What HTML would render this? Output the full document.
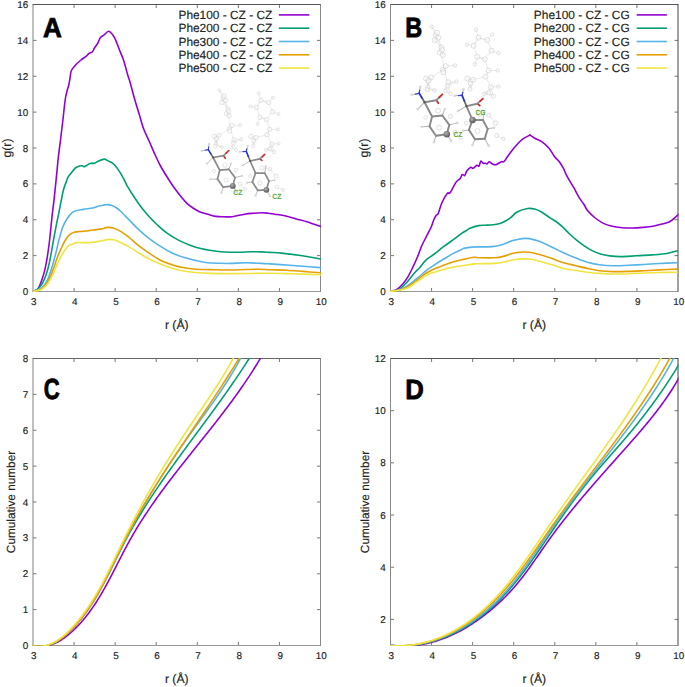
<!DOCTYPE html>
<html><head><meta charset="utf-8"><style>
html,body{margin:0;padding:0;background:#fff;overflow:hidden;}
svg{display:block;text-rendering:geometricPrecision;}
.tl{font-family:"Liberation Sans", sans-serif;font-size:9.9px;fill:#222;stroke:#222;stroke-width:0.15px;}
.al{font-family:"Liberation Sans", sans-serif;font-size:12.2px;fill:#222;stroke:#222;stroke-width:0.15px;}
.al2{font-family:"Liberation Sans", sans-serif;font-size:11.8px;fill:#222;stroke:#222;stroke-width:0.15px;}
.lg{font-family:"Liberation Sans", sans-serif;font-size:11.9px;fill:#222;stroke:#222;stroke-width:0.15px;}
.ml{font-family:"Liberation Sans", sans-serif;font-weight:bold;fill:#5aaa3a;}
.pl{font-family:"Liberation Sans", sans-serif;font-weight:bold;fill:#000;stroke:#000;stroke-width:0.8px;}
</style></head><body>
<svg width="685" height="687" viewBox="0 0 685 687">
<defs><radialGradient id="ballg" cx="0.4" cy="0.35" r="0.65"><stop offset="0" stop-color="#b0b0b0"/><stop offset="0.6" stop-color="#7a7a7a"/><stop offset="1" stop-color="#5a5a5a"/></radialGradient></defs><clipPath id="ca"><rect x="32.5" y="4.0" width="288.5" height="288.0"/></clipPath><line x1="74.07" y1="291.5" x2="74.07" y2="288.0" stroke="#777" stroke-width="1"/><line x1="74.07" y1="4.5" x2="74.07" y2="8.0" stroke="#777" stroke-width="1"/><line x1="115.14" y1="291.5" x2="115.14" y2="288.0" stroke="#777" stroke-width="1"/><line x1="115.14" y1="4.5" x2="115.14" y2="8.0" stroke="#777" stroke-width="1"/><line x1="156.21" y1="291.5" x2="156.21" y2="288.0" stroke="#777" stroke-width="1"/><line x1="156.21" y1="4.5" x2="156.21" y2="8.0" stroke="#777" stroke-width="1"/><line x1="197.29" y1="291.5" x2="197.29" y2="288.0" stroke="#777" stroke-width="1"/><line x1="197.29" y1="4.5" x2="197.29" y2="8.0" stroke="#777" stroke-width="1"/><line x1="238.36" y1="291.5" x2="238.36" y2="288.0" stroke="#777" stroke-width="1"/><line x1="238.36" y1="4.5" x2="238.36" y2="8.0" stroke="#777" stroke-width="1"/><line x1="279.43" y1="291.5" x2="279.43" y2="288.0" stroke="#777" stroke-width="1"/><line x1="279.43" y1="4.5" x2="279.43" y2="8.0" stroke="#777" stroke-width="1"/><line x1="33.0" y1="255.62" x2="36.5" y2="255.62" stroke="#777" stroke-width="1"/><line x1="320.5" y1="255.62" x2="317.0" y2="255.62" stroke="#777" stroke-width="1"/><line x1="33.0" y1="219.75" x2="36.5" y2="219.75" stroke="#777" stroke-width="1"/><line x1="320.5" y1="219.75" x2="317.0" y2="219.75" stroke="#777" stroke-width="1"/><line x1="33.0" y1="183.88" x2="36.5" y2="183.88" stroke="#777" stroke-width="1"/><line x1="320.5" y1="183.88" x2="317.0" y2="183.88" stroke="#777" stroke-width="1"/><line x1="33.0" y1="148.00" x2="36.5" y2="148.00" stroke="#777" stroke-width="1"/><line x1="320.5" y1="148.00" x2="317.0" y2="148.00" stroke="#777" stroke-width="1"/><line x1="33.0" y1="112.12" x2="36.5" y2="112.12" stroke="#777" stroke-width="1"/><line x1="320.5" y1="112.12" x2="317.0" y2="112.12" stroke="#777" stroke-width="1"/><line x1="33.0" y1="76.25" x2="36.5" y2="76.25" stroke="#777" stroke-width="1"/><line x1="320.5" y1="76.25" x2="317.0" y2="76.25" stroke="#777" stroke-width="1"/><line x1="33.0" y1="40.38" x2="36.5" y2="40.38" stroke="#777" stroke-width="1"/><line x1="320.5" y1="40.38" x2="317.0" y2="40.38" stroke="#777" stroke-width="1"/><line x1="32.5" y1="4.5" x2="321.0" y2="4.5" stroke="#555" stroke-width="1"/><line x1="32.5" y1="291.5" x2="321.0" y2="291.5" stroke="#999" stroke-width="1"/><line x1="33.0" y1="4.5" x2="33.0" y2="291.5" stroke="#808080" stroke-width="1"/><line x1="320.5" y1="4.5" x2="320.5" y2="291.5" stroke="#888" stroke-width="1"/><g clip-path="url(#ca)" fill="none" stroke-width="1.6" stroke-linejoin="round" stroke-linecap="round"><path d="M33.50,291.30 C34.15,291.05 36.32,290.88 37.40,289.80 C38.48,288.72 39.18,286.67 40.00,284.80 C40.82,282.93 41.53,280.92 42.30,278.60 C43.07,276.28 43.90,273.73 44.60,270.90 C45.30,268.07 45.92,264.82 46.50,261.60 C47.08,258.38 47.58,255.20 48.10,251.60 C48.62,248.00 48.92,246.12 49.60,240.00 C50.28,233.88 51.47,221.55 52.20,214.90 C52.93,208.25 53.27,206.77 54.00,200.10 C54.73,193.43 55.88,182.00 56.60,174.90 C57.32,167.80 57.65,163.32 58.30,157.50 C58.95,151.68 59.73,146.25 60.50,140.00 C61.27,133.75 62.10,126.83 62.90,120.00 C63.70,113.17 64.57,104.00 65.30,99.00 C66.03,94.00 66.72,92.33 67.30,90.00 C67.88,87.67 68.33,87.08 68.80,85.00 C69.27,82.92 69.67,79.92 70.10,77.50 C70.53,75.08 70.45,72.62 71.40,70.50 C72.35,68.38 74.20,66.55 75.80,64.80 C77.40,63.05 79.25,61.45 81.00,60.00 C82.75,58.55 84.98,57.18 86.30,56.10 C87.62,55.02 87.88,54.23 88.90,53.50 C89.92,52.77 91.45,52.65 92.40,51.70 C93.35,50.75 93.72,49.18 94.60,47.80 C95.48,46.42 96.75,45.08 97.70,43.40 C98.65,41.72 99.28,39.08 100.30,37.70 C101.32,36.32 102.42,36.17 103.80,35.10 C105.18,34.03 107.15,31.38 108.60,31.30 C110.05,31.22 111.27,33.02 112.50,34.60 C113.73,36.18 114.75,38.02 116.00,40.80 C117.25,43.58 118.75,48.08 120.00,51.30 C121.25,54.52 122.18,56.07 123.50,60.10 C124.82,64.13 126.82,71.85 127.90,75.50 C128.98,79.15 128.88,78.08 130.00,82.00 C131.12,85.92 133.10,93.73 134.60,99.00 C136.10,104.27 137.53,108.73 139.00,113.60 C140.47,118.47 141.70,123.58 143.40,128.20 C145.10,132.82 147.27,136.92 149.20,141.30 C151.13,145.68 153.12,150.38 155.00,154.50 C156.88,158.62 158.30,161.95 160.50,166.00 C162.70,170.05 165.95,175.22 168.20,178.80 C170.45,182.38 171.82,184.47 174.00,187.50 C176.18,190.53 179.10,194.32 181.30,197.00 C183.50,199.68 185.25,201.77 187.20,203.60 C189.15,205.43 190.87,206.62 193.00,208.00 C195.13,209.38 197.50,210.85 200.00,211.90 C202.50,212.95 205.33,213.55 208.00,214.30 C210.67,215.05 213.33,215.98 216.00,216.40 C218.67,216.82 221.33,216.75 224.00,216.80 C226.67,216.85 228.58,217.13 232.00,216.70 C235.42,216.27 241.00,214.77 244.50,214.20 C248.00,213.63 250.03,213.53 253.00,213.30 C255.97,213.07 259.80,212.82 262.30,212.80 C264.80,212.78 265.92,212.97 268.00,213.20 C270.08,213.43 272.18,213.82 274.80,214.20 C277.42,214.58 280.13,214.70 283.70,215.50 C287.27,216.30 292.35,217.97 296.20,219.00 C300.05,220.03 302.75,220.45 306.80,221.70 C310.85,222.95 318.22,225.70 320.50,226.50" stroke="#9400d3"/><path d="M33.50,291.20 C34.18,290.83 36.27,290.07 37.60,289.00 C38.93,287.93 40.33,286.53 41.50,284.80 C42.67,283.07 43.63,280.92 44.60,278.60 C45.57,276.28 46.47,273.73 47.30,270.90 C48.13,268.07 48.90,264.82 49.60,261.60 C50.30,258.38 50.85,255.20 51.50,251.60 C52.15,248.00 52.65,244.65 53.50,240.00 C54.35,235.35 55.72,228.17 56.60,223.70 C57.48,219.23 58.07,216.85 58.80,213.20 C59.53,209.55 60.22,205.70 61.00,201.80 C61.78,197.90 62.63,193.12 63.50,189.80 C64.37,186.48 65.40,184.08 66.20,181.90 C67.00,179.72 67.37,178.30 68.30,176.70 C69.23,175.10 70.63,173.75 71.80,172.30 C72.97,170.85 73.98,169.05 75.30,168.00 C76.62,166.95 78.53,166.37 79.70,166.00 C80.87,165.63 81.50,165.70 82.30,165.80 C83.10,165.90 83.62,166.75 84.50,166.60 C85.38,166.45 86.68,165.40 87.60,164.90 C88.52,164.40 89.12,163.90 90.00,163.60 C90.88,163.30 92.18,163.13 92.90,163.10 C93.62,163.07 93.33,163.77 94.30,163.40 C95.27,163.03 97.00,161.62 98.70,160.90 C100.40,160.18 103.03,159.15 104.50,159.10 C105.97,159.05 106.15,159.93 107.50,160.60 C108.85,161.27 110.90,161.72 112.60,163.10 C114.30,164.48 115.88,166.35 117.70,168.90 C119.52,171.45 121.90,175.53 123.50,178.40 C125.10,181.27 125.45,182.88 127.30,186.10 C129.15,189.32 132.17,194.05 134.60,197.70 C137.03,201.35 139.47,204.83 141.90,208.00 C144.33,211.17 146.52,213.78 149.20,216.70 C151.88,219.62 155.08,222.82 158.00,225.50 C160.92,228.18 163.30,230.37 166.70,232.80 C170.10,235.23 174.50,238.03 178.40,240.10 C182.30,242.17 186.20,243.75 190.10,245.20 C194.00,246.65 198.45,247.95 201.80,248.80 C205.15,249.65 207.10,249.82 210.20,250.30 C213.30,250.78 216.98,251.38 220.40,251.70 C223.82,252.02 227.28,252.12 230.70,252.20 C234.12,252.28 237.50,252.28 240.90,252.20 C244.30,252.12 247.70,251.75 251.10,251.70 C254.50,251.65 258.15,251.78 261.30,251.90 C264.45,252.02 266.65,252.20 270.00,252.40 C273.35,252.60 276.00,252.53 281.40,253.10 C286.80,253.67 295.88,254.82 302.40,255.80 C308.92,256.78 317.48,258.47 320.50,259.00" stroke="#009e73"/><path d="M33.50,291.20 C34.58,290.83 38.15,290.07 40.00,289.00 C41.85,287.93 43.25,286.53 44.60,284.80 C45.95,283.07 47.02,281.05 48.10,278.60 C49.18,276.15 50.15,273.07 51.10,270.10 C52.05,267.13 52.88,264.15 53.80,260.80 C54.72,257.45 55.75,253.47 56.60,250.00 C57.45,246.53 57.88,243.80 58.90,240.00 C59.92,236.20 61.48,230.50 62.70,227.20 C63.92,223.90 64.88,222.38 66.20,220.20 C67.52,218.02 69.13,215.63 70.60,214.10 C72.07,212.57 72.87,211.78 75.00,211.00 C77.13,210.22 80.42,209.90 83.40,209.40 C86.38,208.90 90.35,208.55 92.90,208.00 C95.45,207.45 97.02,206.57 98.70,206.10 C100.38,205.63 101.53,205.45 103.00,205.20 C104.47,204.95 106.00,204.53 107.50,204.60 C109.00,204.67 110.58,205.12 112.00,205.60 C113.42,206.08 114.62,206.60 116.00,207.50 C117.38,208.40 118.17,208.98 120.30,211.00 C122.43,213.02 125.68,216.45 128.80,219.60 C131.92,222.75 135.60,226.73 139.00,229.90 C142.40,233.07 145.55,235.82 149.20,238.60 C152.85,241.38 157.00,244.17 160.90,246.60 C164.80,249.03 168.72,251.37 172.60,253.20 C176.48,255.03 180.32,256.38 184.20,257.60 C188.08,258.82 192.00,259.65 195.90,260.50 C199.80,261.35 203.58,262.23 207.60,262.70 C211.62,263.17 216.15,263.18 220.00,263.30 C223.85,263.42 226.37,263.48 230.70,263.40 C235.03,263.32 240.90,262.80 246.00,262.80 C251.10,262.80 257.30,263.22 261.30,263.40 C265.30,263.58 265.78,263.63 270.00,263.90 C274.22,264.17 281.10,264.60 286.60,265.00 C292.10,265.40 297.35,265.87 303.00,266.30 C308.65,266.73 317.58,267.38 320.50,267.60" stroke="#56b4e9"/><path d="M33.50,291.30 C34.25,291.13 36.53,290.80 38.00,290.30 C39.47,289.80 40.82,289.48 42.30,288.30 C43.78,287.12 45.48,285.33 46.90,283.20 C48.32,281.07 49.65,278.07 50.80,275.50 C51.95,272.93 52.78,270.63 53.80,267.80 C54.82,264.97 55.73,261.58 56.90,258.50 C58.07,255.42 59.38,252.38 60.80,249.30 C62.22,246.22 63.92,242.45 65.40,240.00 C66.88,237.55 68.12,235.93 69.70,234.60 C71.28,233.27 73.18,232.52 74.90,232.00 C76.62,231.48 78.22,231.67 80.00,231.50 C81.78,231.33 83.22,231.27 85.60,231.00 C87.98,230.73 91.63,230.25 94.30,229.90 C96.97,229.55 99.40,229.32 101.60,228.90 C103.80,228.48 105.55,227.55 107.50,227.40 C109.45,227.25 111.12,227.33 113.30,228.00 C115.48,228.67 118.02,229.87 120.60,231.40 C123.18,232.93 125.73,234.78 128.80,237.20 C131.87,239.62 135.60,243.23 139.00,245.90 C142.40,248.57 145.55,250.77 149.20,253.20 C152.85,255.63 157.00,258.55 160.90,260.50 C164.80,262.45 168.72,263.68 172.60,264.90 C176.48,266.12 180.32,267.08 184.20,267.80 C188.08,268.52 191.60,268.90 195.90,269.20 C200.20,269.50 204.20,269.47 210.00,269.60 C215.80,269.73 222.83,270.07 230.70,270.00 C238.57,269.93 250.65,269.25 257.20,269.20 C263.75,269.15 265.10,269.53 270.00,269.70 C274.90,269.87 281.10,269.92 286.60,270.20 C292.10,270.48 297.35,270.97 303.00,271.40 C308.65,271.83 317.58,272.57 320.50,272.80" stroke="#e69f00"/><path d="M33.50,291.30 C34.08,291.22 35.67,291.12 37.00,290.80 C38.33,290.48 39.98,290.27 41.50,289.40 C43.02,288.53 44.68,287.13 46.10,285.60 C47.52,284.07 48.72,282.40 50.00,280.20 C51.28,278.00 52.52,275.23 53.80,272.40 C55.08,269.57 56.40,266.03 57.70,263.20 C59.00,260.37 60.32,257.72 61.60,255.40 C62.88,253.08 64.12,250.97 65.40,249.30 C66.68,247.63 68.03,246.30 69.30,245.40 C70.57,244.50 71.75,244.37 73.00,243.90 C74.25,243.43 75.30,242.82 76.80,242.60 C78.30,242.38 80.05,242.60 82.00,242.60 C83.95,242.60 85.97,242.77 88.50,242.60 C91.03,242.43 94.62,241.98 97.20,241.60 C99.78,241.22 102.05,240.67 104.00,240.30 C105.95,239.93 107.10,239.43 108.90,239.40 C110.70,239.37 112.95,239.62 114.80,240.10 C116.65,240.58 117.67,241.22 120.00,242.30 C122.33,243.38 125.63,244.78 128.80,246.60 C131.97,248.42 135.60,251.13 139.00,253.20 C142.40,255.27 145.55,257.17 149.20,259.00 C152.85,260.83 157.00,262.62 160.90,264.20 C164.80,265.78 168.58,267.32 172.60,268.50 C176.62,269.68 180.88,270.58 185.00,271.30 C189.12,272.02 193.13,272.45 197.30,272.80 C201.47,273.15 204.43,273.27 210.00,273.40 C215.57,273.53 220.70,273.62 230.70,273.60 C240.70,273.58 260.68,273.30 270.00,273.30 C279.32,273.30 281.10,273.47 286.60,273.60 C292.10,273.73 297.35,273.92 303.00,274.10 C308.65,274.28 317.58,274.60 320.50,274.70" stroke="#f0e442"/></g><text x="33.80" y="305.00" text-anchor="middle" class="tl">3</text><text x="74.87" y="305.00" text-anchor="middle" class="tl">4</text><text x="115.94" y="305.00" text-anchor="middle" class="tl">5</text><text x="157.01" y="305.00" text-anchor="middle" class="tl">6</text><text x="198.09" y="305.00" text-anchor="middle" class="tl">7</text><text x="239.16" y="305.00" text-anchor="middle" class="tl">8</text><text x="280.23" y="305.00" text-anchor="middle" class="tl">9</text><text x="321.30" y="305.00" text-anchor="middle" class="tl">10</text><text x="28.20" y="295.10" text-anchor="end" class="tl">0</text><text x="28.20" y="259.23" text-anchor="end" class="tl">2</text><text x="28.20" y="223.35" text-anchor="end" class="tl">4</text><text x="28.20" y="187.47" text-anchor="end" class="tl">6</text><text x="28.20" y="151.60" text-anchor="end" class="tl">8</text><text x="28.20" y="115.72" text-anchor="end" class="tl">10</text><text x="28.20" y="79.85" text-anchor="end" class="tl">12</text><text x="28.20" y="43.98" text-anchor="end" class="tl">14</text><text x="28.20" y="8.10" text-anchor="end" class="tl">16</text><text x="176.75" y="329.00" text-anchor="middle" class="al">r (Å)</text><text transform="translate(10.70,148.00) rotate(-90)" text-anchor="middle" class="al">g(r)</text><clipPath id="cb"><rect x="390.0" y="4.0" width="288.5" height="288.0"/></clipPath><line x1="431.57" y1="291.5" x2="431.57" y2="288.0" stroke="#777" stroke-width="1"/><line x1="431.57" y1="4.5" x2="431.57" y2="8.0" stroke="#777" stroke-width="1"/><line x1="472.64" y1="291.5" x2="472.64" y2="288.0" stroke="#777" stroke-width="1"/><line x1="472.64" y1="4.5" x2="472.64" y2="8.0" stroke="#777" stroke-width="1"/><line x1="513.71" y1="291.5" x2="513.71" y2="288.0" stroke="#777" stroke-width="1"/><line x1="513.71" y1="4.5" x2="513.71" y2="8.0" stroke="#777" stroke-width="1"/><line x1="554.79" y1="291.5" x2="554.79" y2="288.0" stroke="#777" stroke-width="1"/><line x1="554.79" y1="4.5" x2="554.79" y2="8.0" stroke="#777" stroke-width="1"/><line x1="595.86" y1="291.5" x2="595.86" y2="288.0" stroke="#777" stroke-width="1"/><line x1="595.86" y1="4.5" x2="595.86" y2="8.0" stroke="#777" stroke-width="1"/><line x1="636.93" y1="291.5" x2="636.93" y2="288.0" stroke="#777" stroke-width="1"/><line x1="636.93" y1="4.5" x2="636.93" y2="8.0" stroke="#777" stroke-width="1"/><line x1="390.5" y1="255.62" x2="394.0" y2="255.62" stroke="#777" stroke-width="1"/><line x1="678.0" y1="255.62" x2="674.5" y2="255.62" stroke="#777" stroke-width="1"/><line x1="390.5" y1="219.75" x2="394.0" y2="219.75" stroke="#777" stroke-width="1"/><line x1="678.0" y1="219.75" x2="674.5" y2="219.75" stroke="#777" stroke-width="1"/><line x1="390.5" y1="183.88" x2="394.0" y2="183.88" stroke="#777" stroke-width="1"/><line x1="678.0" y1="183.88" x2="674.5" y2="183.88" stroke="#777" stroke-width="1"/><line x1="390.5" y1="148.00" x2="394.0" y2="148.00" stroke="#777" stroke-width="1"/><line x1="678.0" y1="148.00" x2="674.5" y2="148.00" stroke="#777" stroke-width="1"/><line x1="390.5" y1="112.12" x2="394.0" y2="112.12" stroke="#777" stroke-width="1"/><line x1="678.0" y1="112.12" x2="674.5" y2="112.12" stroke="#777" stroke-width="1"/><line x1="390.5" y1="76.25" x2="394.0" y2="76.25" stroke="#777" stroke-width="1"/><line x1="678.0" y1="76.25" x2="674.5" y2="76.25" stroke="#777" stroke-width="1"/><line x1="390.5" y1="40.38" x2="394.0" y2="40.38" stroke="#777" stroke-width="1"/><line x1="678.0" y1="40.38" x2="674.5" y2="40.38" stroke="#777" stroke-width="1"/><line x1="390.0" y1="4.5" x2="678.5" y2="4.5" stroke="#555" stroke-width="1"/><line x1="390.0" y1="291.5" x2="678.5" y2="291.5" stroke="#999" stroke-width="1"/><line x1="390.5" y1="4.5" x2="390.5" y2="291.5" stroke="#888" stroke-width="1"/><line x1="678.0" y1="4.5" x2="678.0" y2="291.5" stroke="#444" stroke-width="1"/><g clip-path="url(#cb)" fill="none" stroke-width="1.6" stroke-linejoin="round" stroke-linecap="round"><path d="M390.60,291.00 C391.57,290.78 394.37,290.87 396.40,289.70 C398.43,288.53 400.88,286.13 402.80,284.00 C404.72,281.87 406.18,279.78 407.90,276.90 C409.62,274.02 411.60,269.80 413.10,266.70 C414.60,263.60 415.73,261.08 416.90,258.30 C418.07,255.52 419.23,252.22 420.10,250.00 C420.97,247.78 421.00,247.35 422.10,245.00 C423.20,242.65 425.17,238.95 426.70,235.90 C428.23,232.85 430.13,229.35 431.30,226.70 C432.47,224.05 432.88,221.92 433.70,220.00 C434.52,218.08 435.45,216.25 436.20,215.20 C436.95,214.15 437.27,215.73 438.20,213.70 C439.13,211.67 440.27,206.40 441.80,203.00 C443.33,199.60 446.03,195.00 447.40,193.30 C448.77,191.60 448.55,194.67 450.00,192.80 C451.45,190.93 454.40,184.48 456.10,182.10 C457.80,179.72 459.18,179.77 460.20,178.50 C461.22,177.23 461.45,175.00 462.20,174.50 C462.95,174.00 463.93,176.10 464.70,175.50 C465.47,174.90 465.78,172.27 466.80,170.90 C467.82,169.53 469.78,167.73 470.80,167.30 C471.82,166.87 471.88,168.63 472.90,168.30 C473.92,167.97 475.88,165.67 476.90,165.30 C477.92,164.93 478.35,166.78 479.00,166.10 C479.65,165.42 480.12,161.68 480.80,161.20 C481.48,160.72 482.32,162.85 483.10,163.20 C483.88,163.55 484.80,163.20 485.50,163.30 C486.20,163.40 486.70,164.07 487.30,163.80 C487.90,163.53 488.22,161.65 489.10,161.70 C489.98,161.75 491.43,163.60 492.60,164.10 C493.77,164.60 494.65,165.10 496.10,164.70 C497.55,164.30 500.00,162.20 501.30,161.70 C502.60,161.20 502.88,162.52 503.90,161.70 C504.92,160.88 506.08,158.63 507.40,156.80 C508.72,154.97 510.18,152.75 511.80,150.70 C513.42,148.65 515.35,146.40 517.10,144.50 C518.85,142.60 520.27,140.82 522.30,139.30 C524.33,137.78 528.02,136.10 529.30,135.40 C530.58,134.70 528.92,134.53 530.00,135.10 C531.08,135.67 533.85,137.70 535.80,138.80 C537.75,139.90 539.50,140.13 541.70,141.70 C543.90,143.27 546.82,145.65 549.00,148.20 C551.18,150.75 553.10,154.80 554.80,157.00 C556.50,159.20 557.73,159.45 559.20,161.40 C560.67,163.35 562.50,166.63 563.60,168.70 C564.70,170.77 564.83,171.85 565.80,173.80 C566.77,175.75 568.07,178.08 569.40,180.40 C570.73,182.72 572.22,184.90 573.80,187.70 C575.38,190.50 577.20,194.40 578.90,197.20 C580.60,200.00 582.60,202.33 584.00,204.50 C585.40,206.67 585.53,208.03 587.30,210.20 C589.07,212.37 591.92,215.30 594.60,217.50 C597.28,219.70 600.48,221.93 603.40,223.40 C606.32,224.87 608.95,225.58 612.10,226.30 C615.25,227.02 618.88,227.42 622.30,227.70 C625.72,227.98 629.18,228.05 632.60,228.00 C636.02,227.95 639.40,227.68 642.80,227.40 C646.20,227.12 649.83,226.85 653.00,226.30 C656.17,225.75 659.12,224.83 661.80,224.10 C664.48,223.37 667.17,222.75 669.10,221.90 C671.03,221.05 671.83,220.23 673.40,219.00 C674.97,217.77 677.65,215.25 678.50,214.50" stroke="#9400d3"/><path d="M390.60,291.00 C391.50,290.92 394.50,290.82 396.00,290.50 C397.50,290.18 397.93,290.30 399.60,289.10 C401.27,287.90 404.07,285.33 406.00,283.30 C407.93,281.27 409.60,278.82 411.20,276.90 C412.80,274.98 414.12,273.40 415.60,271.80 C417.08,270.20 418.38,269.25 420.10,267.30 C421.82,265.35 423.63,262.23 425.90,260.10 C428.17,257.97 430.65,256.82 433.70,254.50 C436.75,252.18 440.70,248.83 444.20,246.20 C447.70,243.57 451.73,240.88 454.70,238.70 C457.67,236.52 460.03,234.47 462.00,233.10 C463.97,231.73 465.17,231.30 466.50,230.50 C467.83,229.70 468.00,229.12 470.00,228.30 C472.00,227.48 476.00,226.12 478.50,225.60 C481.00,225.08 482.65,225.33 485.00,225.20 C487.35,225.07 489.88,225.17 492.60,224.80 C495.32,224.43 498.38,224.12 501.30,223.00 C504.22,221.88 507.47,219.93 510.10,218.10 C512.73,216.27 514.18,213.60 517.10,212.00 C520.02,210.40 524.68,209.00 527.60,208.50 C530.52,208.00 532.27,208.42 534.60,209.00 C536.93,209.58 538.97,210.48 541.60,212.00 C544.23,213.52 548.00,216.52 550.40,218.10 C552.80,219.68 554.02,220.07 556.00,221.50 C557.98,222.93 560.03,224.62 562.30,226.70 C564.57,228.78 567.17,231.72 569.60,234.00 C572.03,236.28 574.47,238.43 576.90,240.40 C579.33,242.37 581.77,244.13 584.20,245.80 C586.63,247.47 588.77,249.02 591.50,250.40 C594.23,251.78 597.57,253.18 600.60,254.10 C603.63,255.02 606.30,255.48 609.70,255.90 C613.10,256.32 616.57,256.62 621.00,256.60 C625.43,256.58 631.20,256.08 636.30,255.80 C641.40,255.52 646.48,255.28 651.60,254.90 C656.72,254.52 662.68,254.18 667.00,253.50 C671.32,252.82 675.75,251.25 677.50,250.80" stroke="#009e73"/><path d="M390.60,291.00 C391.50,290.93 393.97,291.02 396.00,290.60 C398.03,290.18 400.60,289.50 402.80,288.50 C405.00,287.50 407.07,286.10 409.20,284.60 C411.33,283.10 413.80,280.93 415.60,279.50 C417.40,278.07 418.15,277.55 420.00,276.00 C421.85,274.45 424.12,272.18 426.70,270.20 C429.28,268.22 432.58,266.00 435.50,264.10 C438.42,262.20 441.30,260.55 444.20,258.80 C447.10,257.05 449.93,255.20 452.90,253.60 C455.87,252.00 460.00,250.12 462.00,249.20 C464.00,248.28 462.63,248.48 464.90,248.10 C467.17,247.72 473.08,247.10 475.60,246.90 C478.12,246.70 477.32,246.95 480.00,246.90 C482.68,246.85 488.05,246.97 491.70,246.60 C495.35,246.23 498.50,245.67 501.90,244.70 C505.30,243.73 508.70,241.82 512.10,240.80 C515.50,239.78 519.38,238.97 522.30,238.60 C525.22,238.23 526.92,238.18 529.60,238.60 C532.28,239.02 534.98,239.83 538.40,241.10 C541.82,242.37 546.20,244.38 550.10,246.20 C554.00,248.02 557.92,250.18 561.80,252.00 C565.68,253.82 570.37,255.82 573.40,257.10 C576.43,258.38 577.68,258.85 580.00,259.70 C582.32,260.55 584.05,261.35 587.30,262.20 C590.55,263.05 595.17,264.20 599.50,264.80 C603.83,265.40 608.45,265.72 613.30,265.80 C618.15,265.88 623.48,265.52 628.60,265.30 C633.72,265.08 638.88,264.80 644.00,264.50 C649.12,264.20 653.72,263.80 659.30,263.50 C664.88,263.20 674.47,262.83 677.50,262.70" stroke="#56b4e9"/><path d="M390.60,291.10 C391.50,291.03 393.97,291.05 396.00,290.70 C398.03,290.35 400.60,289.80 402.80,289.00 C405.00,288.20 407.07,287.17 409.20,285.90 C411.33,284.63 413.80,282.72 415.60,281.40 C417.40,280.08 418.15,279.43 420.00,278.00 C421.85,276.57 424.12,274.40 426.70,272.80 C429.28,271.20 432.58,269.72 435.50,268.40 C438.42,267.08 441.30,265.98 444.20,264.90 C447.10,263.82 449.93,262.77 452.90,261.90 C455.87,261.03 458.47,260.47 462.00,259.70 C465.53,258.93 471.10,257.62 474.10,257.30 C477.10,256.98 476.58,257.72 480.00,257.80 C483.42,257.88 490.70,258.03 494.60,257.80 C498.50,257.57 500.48,257.12 503.40,256.40 C506.32,255.68 508.95,254.23 512.10,253.50 C515.25,252.77 519.38,252.20 522.30,252.00 C525.22,251.80 526.92,251.93 529.60,252.30 C532.28,252.67 534.98,253.28 538.40,254.20 C541.82,255.12 546.20,256.47 550.10,257.80 C554.00,259.13 557.65,260.92 561.80,262.20 C565.95,263.48 570.75,264.47 575.00,265.50 C579.25,266.53 583.22,267.53 587.30,268.40 C591.38,269.27 595.17,270.17 599.50,270.70 C603.83,271.23 608.45,271.48 613.30,271.60 C618.15,271.72 623.48,271.55 628.60,271.40 C633.72,271.25 638.88,270.95 644.00,270.70 C649.12,270.45 653.72,270.17 659.30,269.90 C664.88,269.63 674.47,269.23 677.50,269.10" stroke="#e69f00"/><path d="M390.60,291.20 C391.50,291.13 393.97,291.07 396.00,290.80 C398.03,290.53 400.60,290.20 402.80,289.60 C405.00,289.00 407.07,288.35 409.20,287.20 C411.33,286.05 413.80,283.97 415.60,282.70 C417.40,281.43 418.15,280.88 420.00,279.60 C421.85,278.32 424.12,276.28 426.70,275.00 C429.28,273.72 432.58,272.85 435.50,271.90 C438.42,270.95 441.30,270.10 444.20,269.30 C447.10,268.50 449.93,267.68 452.90,267.10 C455.87,266.52 458.47,266.33 462.00,265.80 C465.53,265.27 471.10,264.25 474.10,263.90 C477.10,263.55 476.58,263.78 480.00,263.70 C483.42,263.62 490.70,263.65 494.60,263.40 C498.50,263.15 500.23,262.82 503.40,262.20 C506.57,261.58 510.20,260.25 513.60,259.70 C517.00,259.15 520.88,258.97 523.80,258.90 C526.72,258.83 528.18,258.82 531.10,259.30 C534.02,259.78 537.65,260.83 541.30,261.80 C544.95,262.77 549.10,263.93 553.00,265.10 C556.90,266.27 561.03,267.93 564.70,268.80 C568.37,269.67 571.23,269.73 575.00,270.30 C578.77,270.87 583.22,271.68 587.30,272.20 C591.38,272.72 595.17,273.10 599.50,273.40 C603.83,273.70 608.45,273.95 613.30,274.00 C618.15,274.05 623.48,273.87 628.60,273.70 C633.72,273.53 638.88,273.20 644.00,273.00 C649.12,272.80 653.72,272.63 659.30,272.50 C664.88,272.37 674.47,272.25 677.50,272.20" stroke="#f0e442"/></g><text x="391.30" y="305.00" text-anchor="middle" class="tl">3</text><text x="432.37" y="305.00" text-anchor="middle" class="tl">4</text><text x="473.44" y="305.00" text-anchor="middle" class="tl">5</text><text x="514.51" y="305.00" text-anchor="middle" class="tl">6</text><text x="555.59" y="305.00" text-anchor="middle" class="tl">7</text><text x="596.66" y="305.00" text-anchor="middle" class="tl">8</text><text x="637.73" y="305.00" text-anchor="middle" class="tl">9</text><text x="678.80" y="305.00" text-anchor="middle" class="tl">10</text><text x="385.70" y="295.10" text-anchor="end" class="tl">0</text><text x="385.70" y="259.23" text-anchor="end" class="tl">2</text><text x="385.70" y="223.35" text-anchor="end" class="tl">4</text><text x="385.70" y="187.47" text-anchor="end" class="tl">6</text><text x="385.70" y="151.60" text-anchor="end" class="tl">8</text><text x="385.70" y="115.72" text-anchor="end" class="tl">10</text><text x="385.70" y="79.85" text-anchor="end" class="tl">12</text><text x="385.70" y="43.98" text-anchor="end" class="tl">14</text><text x="385.70" y="8.10" text-anchor="end" class="tl">16</text><text x="534.25" y="329.00" text-anchor="middle" class="al">r (Å)</text><text transform="translate(368.00,148.00) rotate(-90)" text-anchor="middle" class="al">g(r)</text><clipPath id="cc"><rect x="32.5" y="358.0" width="288.5" height="288.0"/></clipPath><line x1="74.07" y1="645.5" x2="74.07" y2="642.0" stroke="#777" stroke-width="1"/><line x1="74.07" y1="358.5" x2="74.07" y2="362.0" stroke="#777" stroke-width="1"/><line x1="115.14" y1="645.5" x2="115.14" y2="642.0" stroke="#777" stroke-width="1"/><line x1="115.14" y1="358.5" x2="115.14" y2="362.0" stroke="#777" stroke-width="1"/><line x1="156.21" y1="645.5" x2="156.21" y2="642.0" stroke="#777" stroke-width="1"/><line x1="156.21" y1="358.5" x2="156.21" y2="362.0" stroke="#777" stroke-width="1"/><line x1="197.29" y1="645.5" x2="197.29" y2="642.0" stroke="#777" stroke-width="1"/><line x1="197.29" y1="358.5" x2="197.29" y2="362.0" stroke="#777" stroke-width="1"/><line x1="238.36" y1="645.5" x2="238.36" y2="642.0" stroke="#777" stroke-width="1"/><line x1="238.36" y1="358.5" x2="238.36" y2="362.0" stroke="#777" stroke-width="1"/><line x1="279.43" y1="645.5" x2="279.43" y2="642.0" stroke="#777" stroke-width="1"/><line x1="279.43" y1="358.5" x2="279.43" y2="362.0" stroke="#777" stroke-width="1"/><line x1="33.0" y1="609.62" x2="36.5" y2="609.62" stroke="#777" stroke-width="1"/><line x1="320.5" y1="609.62" x2="317.0" y2="609.62" stroke="#777" stroke-width="1"/><line x1="33.0" y1="573.75" x2="36.5" y2="573.75" stroke="#777" stroke-width="1"/><line x1="320.5" y1="573.75" x2="317.0" y2="573.75" stroke="#777" stroke-width="1"/><line x1="33.0" y1="537.88" x2="36.5" y2="537.88" stroke="#777" stroke-width="1"/><line x1="320.5" y1="537.88" x2="317.0" y2="537.88" stroke="#777" stroke-width="1"/><line x1="33.0" y1="502.00" x2="36.5" y2="502.00" stroke="#777" stroke-width="1"/><line x1="320.5" y1="502.00" x2="317.0" y2="502.00" stroke="#777" stroke-width="1"/><line x1="33.0" y1="466.12" x2="36.5" y2="466.12" stroke="#777" stroke-width="1"/><line x1="320.5" y1="466.12" x2="317.0" y2="466.12" stroke="#777" stroke-width="1"/><line x1="33.0" y1="430.25" x2="36.5" y2="430.25" stroke="#777" stroke-width="1"/><line x1="320.5" y1="430.25" x2="317.0" y2="430.25" stroke="#777" stroke-width="1"/><line x1="33.0" y1="394.38" x2="36.5" y2="394.38" stroke="#777" stroke-width="1"/><line x1="320.5" y1="394.38" x2="317.0" y2="394.38" stroke="#777" stroke-width="1"/><line x1="32.5" y1="358.5" x2="321.0" y2="358.5" stroke="#666" stroke-width="1"/><line x1="32.5" y1="645.5" x2="321.0" y2="645.5" stroke="#999" stroke-width="1"/><line x1="33.0" y1="358.5" x2="33.0" y2="645.5" stroke="#808080" stroke-width="1"/><line x1="320.5" y1="358.5" x2="320.5" y2="645.5" stroke="#888" stroke-width="1"/><g clip-path="url(#cc)" fill="none" stroke-width="1.6" stroke-linejoin="round" stroke-linecap="round"><path d="M32.84,645.73 L34.46,646.02 L36.06,646.24 L37.64,646.39 L39.20,646.46 L40.74,646.47 L42.26,646.41 L43.76,646.28 L45.24,646.09 L46.70,645.84 L48.14,645.54 L49.57,645.17 L50.97,644.76 L52.35,644.29 L53.72,643.77 L55.07,643.20 L56.39,642.59 L57.71,641.94 L59.00,641.24 L60.28,640.51 L61.54,639.74 L62.78,638.93 L64.00,638.10 L65.21,637.23 L66.40,636.33 L67.58,635.41 L68.74,634.47 L69.88,633.50 L71.01,632.52 L72.13,631.51 L73.22,630.49 L74.31,629.46 L75.38,628.42 L76.43,627.37 L77.47,626.30 L78.50,625.22 L79.51,624.14 L80.51,623.04 L81.49,621.93 L82.47,620.81 L83.43,619.68 L84.38,618.54 L85.31,617.40 L86.24,616.24 L87.15,615.07 L88.05,613.90 L88.95,612.71 L89.83,611.52 L90.70,610.32 L91.56,609.11 L92.41,607.89 L93.25,606.67 L94.09,605.44 L94.91,604.20 L95.73,602.95 L96.53,601.70 L97.33,600.44 L98.12,599.18 L98.91,597.91 L99.68,596.63 L100.45,595.35 L101.22,594.06 L101.97,592.77 L102.73,591.47 L103.47,590.17 L104.21,588.87 L104.95,587.55 L105.68,586.24 L106.40,584.92 L107.12,583.60 L107.84,582.27 L108.55,580.94 L109.26,579.61 L109.97,578.28 L110.67,576.94 L111.37,575.60 L112.07,574.26 L112.76,572.92 L113.46,571.57 L114.15,570.23 L114.84,568.88 L115.53,567.53 L116.22,566.19 L116.91,564.84 L117.60,563.49 L118.29,562.14 L118.98,560.79 L119.67,559.44 L120.36,558.09 L121.05,556.74 L121.74,555.40 L122.44,554.05 L123.14,552.71 L123.84,551.37 L124.54,550.03 L125.25,548.69 L125.95,547.35 L126.67,546.02 L127.38,544.69 L128.10,543.36 L128.83,542.04 L129.56,540.72 L130.29,539.40 L131.03,538.09 L131.77,536.78 L132.52,535.48 L133.27,534.17 L134.03,532.88 L134.80,531.58 L135.56,530.29 L136.34,529.00 L137.11,527.72 L137.90,526.44 L138.68,525.16 L139.47,523.89 L140.27,522.62 L141.07,521.35 L141.87,520.09 L142.68,518.83 L143.49,517.57 L144.31,516.32 L145.13,515.06 L145.95,513.82 L146.78,512.57 L147.61,511.33 L148.44,510.09 L149.28,508.85 L150.12,507.61 L150.97,506.38 L151.81,505.15 L152.67,503.92 L153.52,502.70 L154.38,501.48 L155.24,500.26 L156.10,499.04 L156.97,497.82 L157.84,496.61 L158.72,495.40 L159.59,494.19 L160.47,492.98 L161.35,491.78 L162.23,490.57 L163.12,489.37 L164.01,488.17 L164.90,486.97 L165.79,485.78 L166.69,484.58 L167.59,483.39 L168.49,482.20 L169.39,481.01 L170.30,479.82 L171.20,478.64 L172.11,477.45 L173.02,476.27 L173.93,475.08 L174.84,473.90 L175.76,472.72 L176.68,471.54 L177.59,470.37 L178.51,469.19 L179.43,468.01 L180.36,466.84 L181.28,465.66 L182.20,464.49 L183.13,463.32 L184.05,462.15 L184.98,460.97 L185.91,459.80 L186.84,458.63 L187.77,457.46 L188.70,456.30 L189.63,455.13 L190.56,453.96 L191.49,452.79 L192.43,451.62 L193.36,450.46 L194.29,449.29 L195.23,448.12 L196.16,446.95 L197.09,445.79 L198.03,444.62 L198.96,443.45 L199.89,442.29 L200.83,441.12 L201.76,439.95 L202.69,438.78 L203.62,437.61 L204.56,436.45 L205.49,435.28 L206.42,434.11 L207.35,432.94 L208.28,431.77 L209.21,430.59 L210.13,429.42 L211.06,428.25 L211.99,427.07 L212.91,425.90 L213.83,424.72 L214.76,423.55 L215.68,422.37 L216.60,421.19 L217.52,420.01 L218.43,418.83 L219.35,417.65 L220.26,416.47 L221.18,415.28 L222.09,414.10 L223.00,412.91 L223.90,411.72 L224.81,410.53 L225.71,409.34 L226.61,408.15 L227.51,406.95 L228.41,405.75 L229.31,404.55 L230.20,403.35 L231.09,402.15 L231.98,400.95 L232.86,399.74 L233.74,398.53 L234.62,397.32 L235.50,396.11 L236.38,394.90 L237.25,393.68 L238.12,392.46 L238.98,391.24 L239.85,390.02 L240.71,388.79 L241.56,387.56 L242.42,386.33 L243.27,385.10 L244.11,383.86 L244.96,382.62 L245.80,381.38 L246.63,380.14 L247.47,378.89 L248.30,377.64 L249.12,376.38 L249.94,375.13 L250.76,373.87 L251.58,372.61 L252.38,371.34 L253.19,370.07 L253.99,368.80 L254.79,367.53 L255.58,366.25 L256.37,364.97 L257.16,363.68 L257.94,362.39 L258.71,361.10 L259.48,359.80 L260.25,358.50 L261.01,357.20 L261.77,355.89 L262.52,354.58 L263.26,353.27 L264.01,351.95" stroke="#9400d3"/><path d="M32.91,645.91 L34.54,646.17 L36.14,646.35 L37.73,646.45 L39.28,646.48 L40.81,646.43 L42.32,646.31 L43.80,646.12 L45.26,645.87 L46.70,645.55 L48.11,645.17 L49.50,644.74 L50.87,644.24 L52.22,643.70 L53.55,643.10 L54.85,642.46 L56.14,641.77 L57.41,641.03 L58.65,640.26 L59.88,639.44 L61.09,638.60 L62.29,637.71 L63.46,636.80 L64.62,635.86 L65.76,634.89 L66.89,633.90 L68.00,632.90 L69.09,631.87 L70.17,630.82 L71.23,629.77 L72.28,628.70 L73.32,627.62 L74.34,626.54 L75.35,625.44 L76.35,624.33 L77.33,623.21 L78.31,622.09 L79.26,620.95 L80.21,619.80 L81.15,618.65 L82.07,617.49 L82.98,616.31 L83.88,615.13 L84.77,613.95 L85.65,612.75 L86.52,611.54 L87.38,610.33 L88.23,609.11 L89.08,607.89 L89.91,606.65 L90.73,605.41 L91.54,604.17 L92.35,602.91 L93.15,601.65 L93.94,600.39 L94.72,599.12 L95.49,597.84 L96.26,596.56 L97.02,595.27 L97.77,593.98 L98.52,592.68 L99.26,591.38 L100.00,590.07 L100.73,588.76 L101.45,587.45 L102.17,586.13 L102.89,584.80 L103.60,583.48 L104.31,582.15 L105.01,580.82 L105.71,579.48 L106.40,578.14 L107.09,576.80 L107.78,575.46 L108.47,574.11 L109.15,572.77 L109.83,571.42 L110.51,570.07 L111.19,568.72 L111.87,567.36 L112.54,566.01 L113.22,564.66 L113.89,563.30 L114.56,561.95 L115.24,560.59 L115.91,559.23 L116.58,557.88 L117.26,556.52 L117.93,555.17 L118.61,553.82 L119.29,552.46 L119.97,551.11 L120.65,549.76 L121.33,548.41 L122.02,547.07 L122.71,545.72 L123.40,544.38 L124.09,543.04 L124.79,541.70 L125.49,540.37 L126.20,539.04 L126.91,537.71 L127.63,536.38 L128.35,535.06 L129.07,533.74 L129.80,532.42 L130.53,531.11 L131.26,529.80 L132.00,528.49 L132.74,527.18 L133.49,525.88 L134.24,524.58 L134.99,523.28 L135.75,521.99 L136.51,520.70 L137.27,519.41 L138.04,518.12 L138.81,516.83 L139.59,515.55 L140.36,514.27 L141.14,512.99 L141.93,511.72 L142.71,510.45 L143.51,509.18 L144.30,507.91 L145.09,506.64 L145.89,505.38 L146.70,504.12 L147.50,502.86 L148.31,501.60 L149.12,500.34 L149.93,499.09 L150.75,497.84 L151.57,496.59 L152.39,495.34 L153.21,494.09 L154.04,492.85 L154.87,491.60 L155.70,490.36 L156.53,489.12 L157.37,487.89 L158.21,486.65 L159.05,485.41 L159.89,484.18 L160.74,482.95 L161.58,481.72 L162.43,480.49 L163.28,479.26 L164.13,478.04 L164.99,476.81 L165.84,475.59 L166.70,474.37 L167.56,473.15 L168.42,471.93 L169.29,470.71 L170.15,469.49 L171.02,468.27 L171.88,467.06 L172.75,465.84 L173.62,464.63 L174.50,463.42 L175.37,462.20 L176.24,460.99 L177.12,459.78 L177.99,458.57 L178.87,457.37 L179.75,456.16 L180.63,454.95 L181.51,453.74 L182.39,452.54 L183.28,451.33 L184.16,450.13 L185.04,448.92 L185.93,447.72 L186.81,446.51 L187.70,445.31 L188.58,444.11 L189.47,442.90 L190.36,441.70 L191.25,440.50 L192.13,439.30 L193.02,438.09 L193.91,436.89 L194.80,435.69 L195.69,434.49 L196.58,433.29 L197.47,432.08 L198.36,430.88 L199.25,429.68 L200.14,428.48 L201.03,427.28 L201.92,426.07 L202.80,424.87 L203.69,423.67 L204.58,422.46 L205.47,421.26 L206.36,420.05 L207.24,418.85 L208.13,417.64 L209.02,416.44 L209.90,415.23 L210.79,414.03 L211.67,412.82 L212.55,411.61 L213.44,410.40 L214.32,409.19 L215.20,407.98 L216.08,406.77 L216.96,405.56 L217.84,404.34 L218.71,403.13 L219.59,401.92 L220.46,400.70 L221.34,399.48 L222.21,398.27 L223.08,397.05 L223.95,395.83 L224.82,394.61 L225.68,393.38 L226.55,392.16 L227.41,390.93 L228.27,389.71 L229.13,388.48 L229.99,387.25 L230.85,386.02 L231.70,384.79 L232.56,383.55 L233.41,382.32 L234.26,381.08 L235.10,379.84 L235.95,378.60 L236.79,377.36 L237.63,376.12 L238.47,374.87 L239.31,373.63 L240.14,372.38 L240.97,371.13 L241.80,369.88 L242.63,368.62 L243.45,367.37 L244.28,366.11 L245.10,364.85 L245.91,363.58 L246.73,362.32 L247.54,361.05 L248.35,359.78 L249.15,358.51 L249.96,357.24 L250.76,355.96 L251.55,354.69 L252.35,353.41 L253.14,352.12" stroke="#009e73"/><path d="M32.92,646.22 L34.56,646.41 L36.17,646.52 L37.75,646.56 L39.31,646.53 L40.84,646.44 L42.35,646.27 L43.83,646.05 L45.29,645.76 L46.72,645.42 L48.13,645.02 L49.52,644.56 L50.88,644.05 L52.23,643.50 L53.55,642.89 L54.85,642.24 L56.13,641.55 L57.39,640.82 L58.63,640.05 L59.86,639.24 L61.06,638.40 L62.25,637.53 L63.42,636.63 L64.57,635.70 L65.70,634.75 L66.82,633.78 L67.93,632.78 L69.02,631.77 L70.09,630.74 L71.15,629.70 L72.20,628.65 L73.24,627.58 L74.26,626.51 L75.27,625.43 L76.26,624.33 L77.25,623.22 L78.22,622.11 L79.18,620.98 L80.13,619.85 L81.06,618.70 L81.99,617.55 L82.90,616.39 L83.81,615.21 L84.70,614.03 L85.58,612.85 L86.46,611.65 L87.32,610.44 L88.18,609.23 L89.02,608.01 L89.86,606.78 L90.68,605.54 L91.50,604.30 L92.31,603.05 L93.11,601.80 L93.91,600.53 L94.69,599.26 L95.47,597.99 L96.24,596.71 L97.01,595.42 L97.76,594.13 L98.51,592.83 L99.26,591.53 L100.00,590.22 L100.73,588.91 L101.46,587.59 L102.18,586.27 L102.90,584.94 L103.61,583.61 L104.31,582.28 L105.02,580.94 L105.71,579.60 L106.41,578.26 L107.10,576.91 L107.78,575.56 L108.47,574.21 L109.15,572.86 L109.82,571.50 L110.50,570.14 L111.17,568.78 L111.84,567.42 L112.51,566.06 L113.18,564.69 L113.84,563.33 L114.50,561.96 L115.17,560.59 L115.83,559.23 L116.49,557.86 L117.15,556.49 L117.81,555.12 L118.47,553.76 L119.13,552.39 L119.79,551.02 L120.46,549.66 L121.12,548.30 L121.79,546.94 L122.45,545.57 L123.12,544.22 L123.79,542.86 L124.46,541.50 L125.14,540.15 L125.81,538.80 L126.49,537.46 L127.18,536.11 L127.86,534.77 L128.55,533.43 L129.24,532.09 L129.93,530.76 L130.63,529.43 L131.33,528.10 L132.03,526.77 L132.73,525.44 L133.44,524.12 L134.15,522.80 L134.86,521.48 L135.58,520.17 L136.29,518.85 L137.01,517.54 L137.74,516.23 L138.46,514.93 L139.19,513.62 L139.92,512.32 L140.65,511.02 L141.38,509.72 L142.12,508.42 L142.86,507.13 L143.60,505.84 L144.35,504.55 L145.10,503.26 L145.85,501.97 L146.60,500.69 L147.35,499.40 L148.11,498.12 L148.87,496.84 L149.63,495.57 L150.40,494.29 L151.16,493.02 L151.93,491.75 L152.71,490.47 L153.48,489.21 L154.26,487.94 L155.04,486.67 L155.82,485.41 L156.60,484.15 L157.39,482.89 L158.17,481.63 L158.97,480.37 L159.76,479.11 L160.55,477.86 L161.35,476.60 L162.15,475.35 L162.95,474.10 L163.76,472.85 L164.56,471.60 L165.37,470.36 L166.18,469.11 L167.00,467.87 L167.81,466.63 L168.63,465.38 L169.45,464.14 L170.27,462.90 L171.10,461.67 L171.92,460.43 L172.75,459.19 L173.58,457.96 L174.42,456.72 L175.25,455.49 L176.09,454.26 L176.93,453.03 L177.77,451.80 L178.62,450.57 L179.46,449.34 L180.31,448.11 L181.16,446.88 L182.01,445.66 L182.87,444.43 L183.72,443.21 L184.58,441.98 L185.44,440.76 L186.30,439.54 L187.17,438.32 L188.03,437.10 L188.90,435.88 L189.77,434.66 L190.65,433.44 L191.52,432.22 L192.40,431.00 L193.27,429.78 L194.15,428.56 L195.03,427.35 L195.91,426.13 L196.79,424.91 L197.68,423.69 L198.56,422.47 L199.44,421.26 L200.32,420.04 L201.21,418.82 L202.09,417.60 L202.97,416.38 L203.85,415.16 L204.74,413.94 L205.62,412.72 L206.50,411.50 L207.37,410.28 L208.25,409.05 L209.13,407.83 L210.00,406.60 L210.87,405.38 L211.74,404.15 L212.61,402.92 L213.48,401.69 L214.34,400.46 L215.20,399.22 L216.06,397.99 L216.92,396.75 L217.77,395.52 L218.62,394.28 L219.46,393.04 L220.31,391.79 L221.14,390.55 L221.98,389.30 L222.81,388.05 L223.64,386.80 L224.46,385.55 L225.28,384.29 L226.09,383.03 L226.90,381.77 L227.70,380.51 L228.50,379.24 L229.29,377.97 L230.08,376.70 L230.86,375.43 L231.63,374.15 L232.40,372.87 L233.17,371.59 L233.92,370.30 L234.68,369.02 L235.42,367.72 L236.16,366.43 L236.89,365.13 L237.61,363.83 L238.33,362.52 L239.04,361.21 L239.74,359.90 L240.43,358.58 L241.12,357.26 L241.79,355.94 L242.46,354.61 L243.12,353.28 L243.78,351.94" stroke="#56b4e9"/><path d="M32.88,645.60 L34.51,645.91 L36.12,646.13 L37.70,646.27 L39.25,646.33 L40.78,646.31 L42.29,646.22 L43.77,646.05 L45.23,645.81 L46.67,645.51 L48.09,645.14 L49.48,644.71 L50.85,644.23 L52.21,643.68 L53.54,643.08 L54.85,642.44 L56.14,641.74 L57.41,641.00 L58.66,640.22 L59.90,639.39 L61.11,638.54 L62.31,637.64 L63.49,636.72 L64.66,635.76 L65.80,634.79 L66.93,633.78 L68.05,632.76 L69.15,631.72 L70.23,630.66 L71.30,629.60 L72.35,628.52 L73.39,627.43 L74.42,626.33 L75.43,625.23 L76.43,624.11 L77.42,622.98 L78.39,621.85 L79.35,620.70 L80.30,619.55 L81.24,618.39 L82.16,617.22 L83.07,616.04 L83.97,614.86 L84.86,613.66 L85.74,612.46 L86.61,611.25 L87.47,610.04 L88.32,608.81 L89.15,607.58 L89.98,606.35 L90.80,605.10 L91.61,603.85 L92.41,602.60 L93.21,601.33 L93.99,600.07 L94.77,598.79 L95.54,597.51 L96.30,596.23 L97.05,594.94 L97.80,593.64 L98.54,592.34 L99.27,591.04 L100.00,589.73 L100.72,588.42 L101.44,587.10 L102.15,585.78 L102.85,584.46 L103.55,583.13 L104.25,581.80 L104.94,580.46 L105.63,579.13 L106.31,577.79 L106.99,576.44 L107.66,575.10 L108.34,573.75 L109.01,572.40 L109.67,571.05 L110.34,569.70 L111.00,568.34 L111.66,566.98 L112.32,565.63 L112.98,564.27 L113.64,562.91 L114.29,561.55 L114.95,560.19 L115.60,558.83 L116.26,557.47 L116.91,556.11 L117.57,554.75 L118.22,553.39 L118.88,552.03 L119.54,550.67 L120.20,549.31 L120.86,547.95 L121.52,546.60 L122.19,545.25 L122.85,543.89 L123.53,542.54 L124.20,541.19 L124.88,539.85 L125.56,538.50 L126.24,537.16 L126.93,535.82 L127.62,534.49 L128.31,533.15 L129.01,531.82 L129.71,530.49 L130.42,529.16 L131.12,527.84 L131.83,526.52 L132.55,525.20 L133.26,523.88 L133.98,522.56 L134.71,521.24 L135.43,519.93 L136.16,518.62 L136.89,517.31 L137.63,516.01 L138.36,514.70 L139.10,513.40 L139.85,512.10 L140.59,510.80 L141.34,509.50 L142.09,508.20 L142.84,506.91 L143.60,505.62 L144.36,504.33 L145.12,503.04 L145.88,501.75 L146.65,500.47 L147.42,499.18 L148.19,497.90 L148.96,496.62 L149.74,495.34 L150.51,494.06 L151.29,492.78 L152.07,491.51 L152.86,490.23 L153.64,488.96 L154.43,487.69 L155.22,486.42 L156.01,485.15 L156.80,483.88 L157.60,482.62 L158.40,481.35 L159.20,480.09 L160.00,478.83 L160.80,477.57 L161.60,476.30 L162.41,475.05 L163.21,473.79 L164.02,472.53 L164.83,471.27 L165.64,470.02 L166.46,468.76 L167.27,467.51 L168.09,466.26 L168.90,465.00 L169.72,463.75 L170.54,462.50 L171.36,461.25 L172.18,460.00 L173.01,458.76 L173.83,457.51 L174.65,456.26 L175.48,455.01 L176.31,453.77 L177.13,452.52 L177.96,451.28 L178.79,450.03 L179.62,448.79 L180.45,447.55 L181.28,446.30 L182.12,445.06 L182.95,443.82 L183.78,442.58 L184.62,441.34 L185.45,440.10 L186.28,438.85 L187.12,437.61 L187.96,436.37 L188.79,435.13 L189.63,433.89 L190.46,432.65 L191.30,431.41 L192.14,430.17 L192.97,428.93 L193.81,427.69 L194.65,426.45 L195.49,425.21 L196.32,423.97 L197.16,422.73 L198.00,421.49 L198.84,420.25 L199.67,419.01 L200.51,417.77 L201.35,416.52 L202.18,415.28 L203.02,414.04 L203.85,412.80 L204.69,411.56 L205.52,410.31 L206.36,409.07 L207.19,407.83 L208.02,406.58 L208.86,405.34 L209.69,404.09 L210.52,402.84 L211.35,401.60 L212.18,400.35 L213.01,399.10 L213.84,397.85 L214.66,396.60 L215.49,395.35 L216.31,394.10 L217.14,392.85 L217.96,391.60 L218.78,390.35 L219.61,389.09 L220.43,387.84 L221.24,386.58 L222.06,385.32 L222.88,384.07 L223.69,382.81 L224.51,381.55 L225.32,380.29 L226.13,379.02 L226.94,377.76 L227.75,376.50 L228.55,375.23 L229.36,373.96 L230.16,372.70 L230.96,371.43 L231.76,370.16 L232.56,368.88 L233.36,367.61 L234.15,366.34 L234.94,365.06 L235.73,363.78 L236.52,362.50 L237.31,361.22 L238.09,359.94 L238.88,358.66 L239.66,357.37 L240.44,356.09 L241.21,354.80 L241.99,353.51 L242.76,352.22" stroke="#e69f00"/><path d="M32.93,646.15 L34.58,646.35 L36.20,646.47 L37.79,646.51 L39.35,646.48 L40.88,646.37 L42.39,646.20 L43.86,645.96 L45.31,645.65 L46.73,645.29 L48.13,644.86 L49.50,644.38 L50.85,643.85 L52.17,643.26 L53.47,642.63 L54.75,641.94 L56.01,641.22 L57.25,640.45 L58.47,639.65 L59.66,638.80 L60.84,637.93 L62.00,637.02 L63.14,636.09 L64.27,635.12 L65.38,634.14 L66.47,633.13 L67.55,632.10 L68.62,631.06 L69.67,630.01 L70.71,628.94 L71.73,627.86 L72.74,626.78 L73.75,625.68 L74.73,624.57 L75.71,623.46 L76.68,622.33 L77.63,621.20 L78.58,620.05 L79.51,618.90 L80.43,617.74 L81.34,616.57 L82.24,615.39 L83.13,614.20 L84.02,613.01 L84.89,611.81 L85.75,610.60 L86.60,609.38 L87.45,608.16 L88.28,606.93 L89.11,605.69 L89.93,604.44 L90.74,603.19 L91.54,601.93 L92.33,600.67 L93.12,599.40 L93.90,598.12 L94.67,596.84 L95.44,595.56 L96.20,594.26 L96.95,592.97 L97.69,591.66 L98.43,590.36 L99.17,589.05 L99.90,587.73 L100.62,586.41 L101.34,585.08 L102.05,583.76 L102.76,582.42 L103.46,581.09 L104.16,579.75 L104.85,578.41 L105.54,577.06 L106.23,575.72 L106.91,574.37 L107.59,573.01 L108.27,571.66 L108.94,570.30 L109.61,568.94 L110.28,567.58 L110.94,566.22 L111.61,564.85 L112.27,563.49 L112.93,562.12 L113.59,560.76 L114.24,559.39 L114.90,558.02 L115.56,556.65 L116.21,555.28 L116.86,553.92 L117.52,552.55 L118.17,551.18 L118.83,549.81 L119.48,548.45 L120.13,547.08 L120.79,545.71 L121.45,544.35 L122.10,542.99 L122.76,541.63 L123.42,540.27 L124.09,538.91 L124.75,537.56 L125.42,536.21 L126.09,534.86 L126.76,533.51 L127.43,532.16 L128.10,530.82 L128.78,529.47 L129.46,528.13 L130.14,526.79 L130.82,525.46 L131.51,524.12 L132.19,522.79 L132.88,521.46 L133.57,520.13 L134.26,518.80 L134.96,517.47 L135.65,516.15 L136.35,514.83 L137.05,513.51 L137.75,512.19 L138.45,510.87 L139.16,509.55 L139.87,508.24 L140.58,506.93 L141.29,505.62 L142.00,504.31 L142.72,503.00 L143.44,501.69 L144.16,500.39 L144.88,499.09 L145.60,497.79 L146.33,496.49 L147.06,495.19 L147.79,493.89 L148.52,492.59 L149.26,491.30 L149.99,490.01 L150.73,488.72 L151.47,487.43 L152.21,486.14 L152.96,484.85 L153.71,483.56 L154.45,482.28 L155.20,480.99 L155.96,479.71 L156.71,478.43 L157.47,477.15 L158.23,475.87 L158.99,474.60 L159.75,473.32 L160.52,472.04 L161.29,470.77 L162.06,469.50 L162.83,468.23 L163.60,466.96 L164.38,465.69 L165.16,464.42 L165.94,463.15 L166.72,461.88 L167.50,460.62 L168.29,459.35 L169.08,458.09 L169.87,456.83 L170.66,455.56 L171.46,454.30 L172.25,453.04 L173.05,451.79 L173.86,450.53 L174.66,449.27 L175.47,448.01 L176.27,446.76 L177.08,445.50 L177.90,444.25 L178.71,442.99 L179.53,441.74 L180.35,440.49 L181.17,439.24 L181.99,437.99 L182.82,436.74 L183.64,435.49 L184.47,434.24 L185.31,432.99 L186.14,431.74 L186.98,430.50 L187.81,429.25 L188.65,428.00 L189.49,426.76 L190.34,425.51 L191.18,424.26 L192.02,423.02 L192.87,421.77 L193.71,420.53 L194.56,419.28 L195.41,418.04 L196.25,416.79 L197.10,415.55 L197.95,414.30 L198.79,413.05 L199.64,411.81 L200.49,410.56 L201.33,409.32 L202.18,408.07 L203.02,406.82 L203.87,405.57 L204.71,404.32 L205.55,403.07 L206.39,401.82 L207.23,400.57 L208.06,399.32 L208.90,398.07 L209.73,396.81 L210.56,395.56 L211.39,394.30 L212.22,393.05 L213.04,391.79 L213.87,390.53 L214.68,389.27 L215.50,388.01 L216.31,386.75 L217.12,385.48 L217.93,384.22 L218.73,382.95 L219.53,381.68 L220.33,380.41 L221.12,379.14 L221.91,377.87 L222.69,376.59 L223.47,375.32 L224.25,374.04 L225.02,372.76 L225.79,371.48 L226.55,370.19 L227.30,368.91 L228.06,367.62 L228.80,366.33 L229.54,365.04 L230.28,363.74 L231.01,362.45 L231.73,361.15 L232.45,359.85 L233.16,358.54 L233.87,357.24 L234.57,355.93 L235.26,354.62 L235.95,353.30 L236.63,351.99" stroke="#f0e442"/></g><text x="33.80" y="659.00" text-anchor="middle" class="tl">3</text><text x="74.87" y="659.00" text-anchor="middle" class="tl">4</text><text x="115.94" y="659.00" text-anchor="middle" class="tl">5</text><text x="157.01" y="659.00" text-anchor="middle" class="tl">6</text><text x="198.09" y="659.00" text-anchor="middle" class="tl">7</text><text x="239.16" y="659.00" text-anchor="middle" class="tl">8</text><text x="280.23" y="659.00" text-anchor="middle" class="tl">9</text><text x="321.30" y="659.00" text-anchor="middle" class="tl">10</text><text x="28.20" y="649.10" text-anchor="end" class="tl">0</text><text x="28.20" y="613.23" text-anchor="end" class="tl">1</text><text x="28.20" y="577.35" text-anchor="end" class="tl">2</text><text x="28.20" y="541.48" text-anchor="end" class="tl">3</text><text x="28.20" y="505.60" text-anchor="end" class="tl">4</text><text x="28.20" y="469.73" text-anchor="end" class="tl">5</text><text x="28.20" y="433.85" text-anchor="end" class="tl">6</text><text x="28.20" y="397.98" text-anchor="end" class="tl">7</text><text x="28.20" y="362.10" text-anchor="end" class="tl">8</text><text x="176.75" y="683.00" text-anchor="middle" class="al">r (Å)</text><text transform="translate(15.30,502.00) rotate(-90)" text-anchor="middle" class="al2">Cumulative number</text><clipPath id="cd"><rect x="390.0" y="358.0" width="288.5" height="288.0"/></clipPath><line x1="431.57" y1="645.5" x2="431.57" y2="642.0" stroke="#777" stroke-width="1"/><line x1="431.57" y1="358.5" x2="431.57" y2="362.0" stroke="#777" stroke-width="1"/><line x1="472.64" y1="645.5" x2="472.64" y2="642.0" stroke="#777" stroke-width="1"/><line x1="472.64" y1="358.5" x2="472.64" y2="362.0" stroke="#777" stroke-width="1"/><line x1="513.71" y1="645.5" x2="513.71" y2="642.0" stroke="#777" stroke-width="1"/><line x1="513.71" y1="358.5" x2="513.71" y2="362.0" stroke="#777" stroke-width="1"/><line x1="554.79" y1="645.5" x2="554.79" y2="642.0" stroke="#777" stroke-width="1"/><line x1="554.79" y1="358.5" x2="554.79" y2="362.0" stroke="#777" stroke-width="1"/><line x1="595.86" y1="645.5" x2="595.86" y2="642.0" stroke="#777" stroke-width="1"/><line x1="595.86" y1="358.5" x2="595.86" y2="362.0" stroke="#777" stroke-width="1"/><line x1="636.93" y1="645.5" x2="636.93" y2="642.0" stroke="#777" stroke-width="1"/><line x1="636.93" y1="358.5" x2="636.93" y2="362.0" stroke="#777" stroke-width="1"/><line x1="390.5" y1="619.41" x2="394.0" y2="619.41" stroke="#777" stroke-width="1"/><line x1="678.0" y1="619.41" x2="674.5" y2="619.41" stroke="#777" stroke-width="1"/><line x1="390.5" y1="567.23" x2="394.0" y2="567.23" stroke="#777" stroke-width="1"/><line x1="678.0" y1="567.23" x2="674.5" y2="567.23" stroke="#777" stroke-width="1"/><line x1="390.5" y1="515.05" x2="394.0" y2="515.05" stroke="#777" stroke-width="1"/><line x1="678.0" y1="515.05" x2="674.5" y2="515.05" stroke="#777" stroke-width="1"/><line x1="390.5" y1="462.86" x2="394.0" y2="462.86" stroke="#777" stroke-width="1"/><line x1="678.0" y1="462.86" x2="674.5" y2="462.86" stroke="#777" stroke-width="1"/><line x1="390.5" y1="410.68" x2="394.0" y2="410.68" stroke="#777" stroke-width="1"/><line x1="678.0" y1="410.68" x2="674.5" y2="410.68" stroke="#777" stroke-width="1"/><line x1="390.0" y1="358.5" x2="678.5" y2="358.5" stroke="#555" stroke-width="1"/><line x1="390.0" y1="645.5" x2="678.5" y2="645.5" stroke="#999" stroke-width="1"/><line x1="390.5" y1="358.5" x2="390.5" y2="645.5" stroke="#888" stroke-width="1"/><line x1="678.0" y1="358.5" x2="678.0" y2="645.5" stroke="#444" stroke-width="1"/><g clip-path="url(#cd)" fill="none" stroke-width="1.6" stroke-linejoin="round" stroke-linecap="round"><path d="M390.41,645.15 L391.94,645.34 L393.46,645.50 L394.99,645.64 L396.51,645.76 L398.03,645.85 L399.54,645.92 L401.06,645.97 L402.57,646.00 L404.08,646.00 L405.58,645.99 L407.09,645.95 L408.59,645.89 L410.08,645.81 L411.58,645.71 L413.07,645.59 L414.56,645.45 L416.04,645.29 L417.52,645.11 L419.00,644.91 L420.47,644.68 L421.94,644.44 L423.40,644.18 L424.86,643.90 L426.32,643.60 L427.77,643.28 L429.22,642.95 L430.66,642.59 L432.10,642.22 L433.53,641.82 L434.96,641.41 L436.38,640.98 L437.80,640.54 L439.21,640.07 L440.62,639.59 L442.02,639.09 L443.42,638.58 L444.81,638.05 L446.20,637.50 L447.58,636.93 L448.95,636.35 L450.32,635.76 L451.68,635.14 L453.04,634.52 L454.39,633.88 L455.73,633.22 L457.07,632.55 L458.41,631.87 L459.73,631.17 L461.05,630.46 L462.37,629.74 L463.68,629.00 L464.98,628.25 L466.27,627.49 L467.56,626.72 L468.85,625.93 L470.12,625.14 L471.39,624.33 L472.65,623.51 L473.91,622.68 L475.16,621.84 L476.40,620.99 L477.64,620.13 L478.86,619.26 L480.09,618.39 L481.30,617.50 L482.51,616.60 L483.71,615.70 L484.90,614.79 L486.09,613.86 L487.26,612.94 L488.44,612.00 L489.60,611.05 L490.75,610.10 L491.90,609.14 L493.04,608.17 L494.17,607.19 L495.30,606.21 L496.42,605.21 L497.53,604.21 L498.63,603.21 L499.72,602.19 L500.81,601.17 L501.89,600.14 L502.96,599.10 L504.02,598.05 L505.07,597.00 L506.12,595.94 L507.16,594.87 L508.19,593.80 L509.21,592.71 L510.23,591.62 L511.23,590.52 L512.23,589.42 L513.22,588.31 L514.20,587.19 L515.18,586.06 L516.14,584.93 L517.10,583.79 L518.05,582.64 L518.99,581.49 L519.93,580.33 L520.86,579.16 L521.78,577.99 L522.69,576.81 L523.60,575.62 L524.51,574.44 L525.40,573.24 L526.30,572.05 L527.19,570.84 L528.07,569.64 L528.95,568.43 L529.82,567.21 L530.70,566.00 L531.57,564.78 L532.43,563.56 L533.29,562.33 L534.16,561.11 L535.02,559.88 L535.87,558.65 L536.73,557.42 L537.58,556.19 L538.44,554.96 L539.29,553.72 L540.15,552.49 L541.00,551.26 L541.85,550.02 L542.71,548.79 L543.57,547.56 L544.42,546.33 L545.28,545.10 L546.15,543.87 L547.01,542.65 L547.88,541.42 L548.75,540.20 L549.62,538.99 L550.50,537.77 L551.38,536.56 L552.26,535.35 L553.15,534.14 L554.04,532.94 L554.93,531.73 L555.82,530.54 L556.72,529.34 L557.62,528.14 L558.53,526.95 L559.44,525.76 L560.35,524.58 L561.26,523.39 L562.18,522.21 L563.10,521.03 L564.02,519.85 L564.94,518.67 L565.87,517.50 L566.80,516.33 L567.73,515.16 L568.67,513.99 L569.60,512.83 L570.54,511.66 L571.48,510.50 L572.43,509.34 L573.37,508.18 L574.32,507.02 L575.27,505.87 L576.22,504.72 L577.18,503.56 L578.14,502.41 L579.09,501.27 L580.05,500.12 L581.02,498.97 L581.98,497.83 L582.94,496.69 L583.91,495.55 L584.88,494.41 L585.85,493.27 L586.82,492.13 L587.80,490.99 L588.77,489.86 L589.75,488.72 L590.72,487.59 L591.70,486.46 L592.68,485.33 L593.67,484.20 L594.65,483.07 L595.63,481.94 L596.62,480.81 L597.60,479.69 L598.59,478.56 L599.58,477.44 L600.57,476.31 L601.55,475.19 L602.55,474.07 L603.54,472.94 L604.53,471.82 L605.52,470.70 L606.51,469.58 L607.51,468.46 L608.50,467.34 L609.49,466.22 L610.49,465.10 L611.48,463.98 L612.48,462.86 L613.48,461.74 L614.47,460.62 L615.47,459.50 L616.46,458.38 L617.46,457.27 L618.46,456.15 L619.45,455.03 L620.45,453.91 L621.45,452.79 L622.44,451.67 L623.44,450.55 L624.43,449.43 L625.43,448.31 L626.42,447.19 L627.42,446.07 L628.41,444.95 L629.40,443.82 L630.39,442.70 L631.38,441.58 L632.37,440.45 L633.36,439.32 L634.35,438.20 L635.33,437.07 L636.32,435.94 L637.30,434.81 L638.28,433.67 L639.25,432.54 L640.23,431.40 L641.20,430.26 L642.17,429.12 L643.14,427.98 L644.10,426.83 L645.06,425.69 L646.02,424.54 L646.97,423.38 L647.92,422.23 L648.87,421.07 L649.82,419.91 L650.76,418.75 L651.69,417.58 L652.63,416.41 L653.55,415.24 L654.48,414.07 L655.40,412.89 L656.31,411.71 L657.22,410.52 L658.13,409.33 L659.03,408.14 L659.92,406.94 L660.81,405.74 L661.70,404.54 L662.58,403.33 L663.45,402.12 L664.32,400.90 L665.18,399.68 L666.04,398.45 L666.89,397.22 L667.73,395.98 L668.57,394.74 L669.40,393.50 L670.23,392.25 L671.04,390.99 L671.85,389.73 L672.66,388.47 L673.45,387.20 L674.24,385.92 L675.02,384.64 L675.80,383.35 L676.56,382.06 L677.32,380.76 L678.07,379.45 L678.81,378.14 L679.55,376.83 L680.27,375.50 L680.99,374.17 L681.70,372.84 L682.40,371.49 L683.09,370.14 L683.77,368.79" stroke="#9400d3"/><path d="M390.40,645.30 L391.92,645.45 L393.44,645.58 L394.96,645.68 L396.47,645.76 L397.99,645.82 L399.50,645.86 L401.01,645.88 L402.51,645.87 L404.02,645.84 L405.52,645.80 L407.02,645.73 L408.52,645.64 L410.01,645.53 L411.50,645.40 L412.99,645.24 L414.48,645.07 L415.96,644.88 L417.44,644.67 L418.91,644.44 L420.38,644.19 L421.85,643.93 L423.31,643.64 L424.77,643.34 L426.23,643.01 L427.68,642.67 L429.12,642.31 L430.57,641.93 L432.00,641.54 L433.43,641.13 L434.86,640.70 L436.28,640.25 L437.70,639.79 L439.11,639.31 L440.52,638.82 L441.92,638.30 L443.32,637.78 L444.71,637.23 L446.09,636.67 L447.47,636.10 L448.84,635.51 L450.21,634.90 L451.57,634.29 L452.92,633.65 L454.27,633.00 L455.61,632.34 L456.95,631.66 L458.27,630.97 L459.59,630.27 L460.91,629.55 L462.22,628.82 L463.52,628.08 L464.81,627.32 L466.10,626.55 L467.38,625.77 L468.65,624.98 L469.91,624.17 L471.17,623.35 L472.42,622.52 L473.66,621.68 L474.90,620.83 L476.12,619.96 L477.34,619.09 L478.55,618.20 L479.75,617.31 L480.95,616.40 L482.13,615.48 L483.31,614.56 L484.48,613.62 L485.64,612.67 L486.79,611.72 L487.93,610.75 L489.07,609.78 L490.19,608.80 L491.31,607.81 L492.41,606.81 L493.51,605.80 L494.60,604.78 L495.68,603.76 L496.75,602.73 L497.82,601.69 L498.88,600.64 L499.92,599.58 L500.96,598.52 L502.00,597.45 L503.02,596.37 L504.04,595.29 L505.05,594.20 L506.06,593.10 L507.05,592.00 L508.05,590.89 L509.03,589.78 L510.01,588.65 L510.98,587.53 L511.94,586.39 L512.90,585.26 L513.86,584.11 L514.81,582.96 L515.75,581.81 L516.69,580.65 L517.62,579.49 L518.54,578.32 L519.47,577.15 L520.38,575.97 L521.30,574.79 L522.21,573.60 L523.11,572.41 L524.01,571.22 L524.90,570.02 L525.80,568.82 L526.69,567.62 L527.57,566.41 L528.45,565.20 L529.33,563.99 L530.20,562.78 L531.08,561.56 L531.94,560.34 L532.81,559.12 L533.68,557.89 L534.54,556.67 L535.40,555.44 L536.25,554.21 L537.11,552.98 L537.96,551.75 L538.81,550.51 L539.66,549.28 L540.51,548.04 L541.36,546.81 L542.21,545.57 L543.05,544.33 L543.90,543.10 L544.74,541.86 L545.59,540.62 L546.43,539.38 L547.28,538.15 L548.12,536.91 L548.96,535.67 L549.81,534.44 L550.65,533.20 L551.50,531.97 L552.34,530.73 L553.19,529.50 L554.03,528.26 L554.88,527.03 L555.73,525.80 L556.57,524.57 L557.42,523.34 L558.27,522.11 L559.12,520.88 L559.97,519.66 L560.83,518.43 L561.68,517.21 L562.54,515.98 L563.39,514.76 L564.25,513.54 L565.11,512.32 L565.98,511.10 L566.84,509.89 L567.71,508.67 L568.58,507.46 L569.45,506.25 L570.32,505.04 L571.19,503.83 L572.07,502.63 L572.95,501.42 L573.83,500.22 L574.72,499.02 L575.60,497.82 L576.49,496.63 L577.39,495.43 L578.28,494.24 L579.18,493.05 L580.08,491.87 L580.99,490.68 L581.90,489.50 L582.81,488.32 L583.73,487.14 L584.65,485.97 L585.57,484.80 L586.50,483.63 L587.43,482.46 L588.36,481.30 L589.30,480.14 L590.24,478.98 L591.19,477.83 L592.14,476.67 L593.09,475.52 L594.05,474.38 L595.01,473.23 L595.98,472.09 L596.94,470.95 L597.91,469.81 L598.88,468.67 L599.86,467.54 L600.84,466.41 L601.81,465.27 L602.79,464.14 L603.78,463.01 L604.76,461.89 L605.75,460.76 L606.73,459.63 L607.72,458.50 L608.71,457.38 L609.70,456.25 L610.68,455.13 L611.67,454.00 L612.66,452.88 L613.65,451.75 L614.64,450.63 L615.63,449.50 L616.62,448.37 L617.60,447.25 L618.59,446.12 L619.57,444.99 L620.56,443.86 L621.54,442.73 L622.52,441.60 L623.50,440.46 L624.47,439.33 L625.45,438.19 L626.42,437.05 L627.39,435.91 L628.35,434.77 L629.32,433.62 L630.28,432.47 L631.24,431.32 L632.19,430.17 L633.14,429.02 L634.09,427.86 L635.04,426.70 L635.98,425.54 L636.92,424.38 L637.85,423.21 L638.79,422.04 L639.72,420.87 L640.64,419.70 L641.57,418.53 L642.49,417.35 L643.41,416.17 L644.32,414.99 L645.23,413.80 L646.14,412.62 L647.05,411.43 L647.95,410.24 L648.85,409.04 L649.74,407.85 L650.64,406.65 L651.52,405.45 L652.41,404.25 L653.29,403.04 L654.17,401.83 L655.05,400.62 L655.92,399.41 L656.79,398.19 L657.66,396.98 L658.52,395.76 L659.38,394.53 L660.24,393.31 L661.09,392.08 L661.94,390.85 L662.79,389.62 L663.63,388.39 L664.47,387.15 L665.31,385.91 L666.14,384.67 L666.97,383.42 L667.79,382.17 L668.62,380.92 L669.44,379.67 L670.25,378.42 L671.06,377.16 L671.87,375.90 L672.68,374.64 L673.48,373.37 L674.28,372.11 L675.07,370.84 L675.86,369.56 L676.65,368.29 L677.44,367.01 L678.22,365.73 L678.99,364.45 L679.77,363.16 L680.54,361.87 L681.30,360.58 L682.06,359.29 L682.82,357.99 L683.58,356.69" stroke="#009e73"/><path d="M390.49,645.34 L392.01,645.48 L393.52,645.59 L395.03,645.68 L396.54,645.75 L398.04,645.80 L399.54,645.82 L401.04,645.82 L402.54,645.80 L404.04,645.76 L405.53,645.69 L407.02,645.61 L408.50,645.50 L409.99,645.37 L411.47,645.22 L412.94,645.05 L414.42,644.86 L415.89,644.65 L417.35,644.42 L418.82,644.17 L420.28,643.90 L421.73,643.62 L423.18,643.31 L424.63,642.98 L426.08,642.64 L427.52,642.28 L428.95,641.90 L430.38,641.50 L431.81,641.08 L433.23,640.65 L434.65,640.20 L436.07,639.74 L437.48,639.25 L438.88,638.76 L440.28,638.24 L441.68,637.71 L443.07,637.16 L444.46,636.60 L445.84,636.02 L447.21,635.43 L448.58,634.82 L449.95,634.20 L451.31,633.56 L452.66,632.91 L454.01,632.25 L455.35,631.57 L456.68,630.88 L458.01,630.17 L459.33,629.45 L460.65,628.72 L461.96,627.97 L463.26,627.21 L464.55,626.44 L465.84,625.65 L467.12,624.86 L468.40,624.05 L469.66,623.23 L470.92,622.40 L472.17,621.55 L473.41,620.70 L474.65,619.83 L475.88,618.95 L477.09,618.07 L478.30,617.17 L479.51,616.26 L480.70,615.34 L481.88,614.41 L483.06,613.47 L484.23,612.52 L485.38,611.56 L486.53,610.60 L487.67,609.62 L488.80,608.64 L489.92,607.64 L491.03,606.64 L492.13,605.63 L493.22,604.61 L494.31,603.58 L495.38,602.55 L496.44,601.50 L497.50,600.45 L498.54,599.40 L499.58,598.33 L500.61,597.26 L501.63,596.18 L502.65,595.09 L503.65,594.00 L504.65,592.90 L505.64,591.80 L506.63,590.68 L507.60,589.57 L508.57,588.44 L509.54,587.31 L510.49,586.18 L511.44,585.04 L512.39,583.89 L513.33,582.74 L514.26,581.58 L515.19,580.42 L516.11,579.25 L517.02,578.08 L517.94,576.91 L518.84,575.73 L519.74,574.54 L520.64,573.35 L521.53,572.16 L522.42,570.97 L523.31,569.77 L524.19,568.57 L525.07,567.36 L525.94,566.15 L526.81,564.94 L527.68,563.72 L528.54,562.51 L529.40,561.29 L530.26,560.06 L531.12,558.84 L531.97,557.61 L532.82,556.38 L533.68,555.15 L534.52,553.92 L535.37,552.69 L536.22,551.45 L537.06,550.22 L537.90,548.98 L538.75,547.74 L539.59,546.50 L540.43,545.26 L541.27,544.02 L542.11,542.78 L542.95,541.54 L543.80,540.30 L544.64,539.06 L545.48,537.82 L546.32,536.58 L547.17,535.34 L548.01,534.11 L548.86,532.87 L549.71,531.63 L550.56,530.40 L551.41,529.16 L552.26,527.93 L553.12,526.70 L553.97,525.47 L554.83,524.24 L555.70,523.02 L556.56,521.80 L557.43,520.57 L558.30,519.36 L559.17,518.14 L560.05,516.92 L560.92,515.71 L561.80,514.50 L562.68,513.29 L563.57,512.08 L564.45,510.87 L565.34,509.66 L566.23,508.46 L567.12,507.26 L568.01,506.05 L568.91,504.85 L569.81,503.65 L570.70,502.46 L571.60,501.26 L572.50,500.06 L573.41,498.87 L574.31,497.68 L575.22,496.49 L576.12,495.30 L577.03,494.11 L577.94,492.92 L578.85,491.73 L579.76,490.54 L580.68,489.36 L581.59,488.17 L582.50,486.99 L583.42,485.80 L584.34,484.62 L585.25,483.44 L586.17,482.25 L587.09,481.07 L588.01,479.89 L588.93,478.71 L589.85,477.53 L590.77,476.35 L591.69,475.17 L592.61,474.00 L593.53,472.82 L594.46,471.64 L595.38,470.46 L596.30,469.28 L597.22,468.11 L598.15,466.93 L599.07,465.75 L599.99,464.57 L600.91,463.40 L601.84,462.22 L602.76,461.04 L603.68,459.86 L604.60,458.69 L605.52,457.51 L606.44,456.33 L607.36,455.15 L608.28,453.97 L609.20,452.79 L610.12,451.61 L611.04,450.43 L611.95,449.25 L612.87,448.07 L613.79,446.89 L614.70,445.71 L615.61,444.52 L616.53,443.34 L617.44,442.16 L618.35,440.97 L619.26,439.78 L620.16,438.60 L621.07,437.41 L621.97,436.22 L622.88,435.03 L623.78,433.84 L624.68,432.65 L625.58,431.46 L626.48,430.26 L627.37,429.07 L628.27,427.87 L629.16,426.67 L630.05,425.47 L630.94,424.27 L631.83,423.07 L632.71,421.87 L633.59,420.67 L634.47,419.46 L635.35,418.25 L636.23,417.04 L637.10,415.83 L637.98,414.62 L638.85,413.41 L639.71,412.19 L640.58,410.97 L641.44,409.75 L642.30,408.53 L643.16,407.31 L644.01,406.09 L644.86,404.86 L645.71,403.63 L646.56,402.40 L647.40,401.17 L648.24,399.93 L649.08,398.69 L649.91,397.46 L650.74,396.21 L651.57,394.97 L652.39,393.72 L653.21,392.48 L654.03,391.22 L654.85,389.97 L655.66,388.72 L656.47,387.46 L657.27,386.20 L658.07,384.93 L658.87,383.67 L659.66,382.40 L660.45,381.13 L661.24,379.85 L662.02,378.57 L662.80,377.30 L663.57,376.01 L664.34,374.73 L665.11,373.44 L665.87,372.15 L666.63,370.85 L667.38,369.55 L668.13,368.25 L668.87,366.95 L669.61,365.64 L670.35,364.33 L671.08,363.02 L671.81,361.70 L672.53,360.38 L673.25,359.06 L673.96,357.73 L674.67,356.40 L675.37,355.07 L676.07,353.73 L676.77,352.39 L677.45,351.04 L678.14,349.69" stroke="#56b4e9"/><path d="M389.94,645.48 L391.54,645.60 L393.13,645.69 L394.72,645.76 L396.30,645.80 L397.87,645.83 L399.44,645.83 L401.00,645.81 L402.56,645.77 L404.10,645.70 L405.65,645.62 L407.18,645.51 L408.71,645.38 L410.23,645.23 L411.75,645.07 L413.26,644.88 L414.76,644.67 L416.26,644.44 L417.74,644.19 L419.23,643.92 L420.70,643.63 L422.17,643.32 L423.64,643.00 L425.09,642.65 L426.54,642.29 L427.99,641.91 L429.42,641.51 L430.85,641.09 L432.27,640.65 L433.69,640.20 L435.10,639.73 L436.50,639.24 L437.90,638.74 L439.28,638.22 L440.66,637.68 L442.04,637.13 L443.41,636.56 L444.77,635.98 L446.12,635.38 L447.47,634.76 L448.81,634.13 L450.14,633.48 L451.46,632.82 L452.78,632.15 L454.09,631.46 L455.39,630.76 L456.69,630.04 L457.98,629.31 L459.26,628.57 L460.54,627.81 L461.80,627.04 L463.06,626.26 L464.32,625.47 L465.56,624.66 L466.80,623.84 L468.03,623.01 L469.25,622.17 L470.47,621.31 L471.68,620.45 L472.88,619.57 L474.07,618.68 L475.26,617.79 L476.43,616.88 L477.60,615.96 L478.77,615.03 L479.92,614.09 L481.07,613.14 L482.21,612.19 L483.34,611.22 L484.47,610.25 L485.58,609.26 L486.69,608.27 L487.79,607.27 L488.89,606.26 L489.97,605.24 L491.05,604.22 L492.12,603.19 L493.18,602.15 L494.24,601.10 L495.29,600.05 L496.33,598.99 L497.36,597.92 L498.39,596.85 L499.41,595.77 L500.42,594.68 L501.43,593.59 L502.43,592.49 L503.42,591.39 L504.41,590.27 L505.39,589.16 L506.37,588.04 L507.34,586.91 L508.31,585.77 L509.27,584.64 L510.22,583.49 L511.17,582.34 L512.12,581.19 L513.06,580.03 L513.99,578.87 L514.93,577.70 L515.85,576.53 L516.77,575.36 L517.69,574.18 L518.61,573.00 L519.52,571.81 L520.42,570.62 L521.33,569.43 L522.23,568.23 L523.12,567.03 L524.02,565.83 L524.91,564.62 L525.80,563.41 L526.68,562.20 L527.56,560.99 L528.44,559.77 L529.32,558.55 L530.19,557.33 L531.07,556.11 L531.94,554.88 L532.81,553.66 L533.68,552.43 L534.54,551.20 L535.41,549.97 L536.27,548.74 L537.13,547.51 L538.00,546.27 L538.86,545.04 L539.72,543.81 L540.58,542.57 L541.44,541.33 L542.30,540.10 L543.16,538.86 L544.02,537.63 L544.87,536.39 L545.73,535.16 L546.59,533.92 L547.46,532.69 L548.32,531.45 L549.18,530.22 L550.04,528.99 L550.91,527.76 L551.77,526.53 L552.64,525.30 L553.51,524.08 L554.38,522.85 L555.25,521.63 L556.12,520.41 L557.00,519.19 L557.87,517.97 L558.75,516.75 L559.63,515.54 L560.51,514.32 L561.39,513.11 L562.27,511.90 L563.16,510.69 L564.04,509.48 L564.93,508.27 L565.82,507.06 L566.70,505.86 L567.59,504.65 L568.48,503.45 L569.37,502.24 L570.26,501.04 L571.16,499.84 L572.05,498.64 L572.94,497.44 L573.84,496.24 L574.73,495.04 L575.63,493.85 L576.53,492.65 L577.42,491.45 L578.32,490.26 L579.22,489.06 L580.12,487.87 L581.02,486.68 L581.92,485.48 L582.82,484.29 L583.72,483.10 L584.62,481.91 L585.52,480.72 L586.42,479.53 L587.32,478.33 L588.22,477.14 L589.12,475.95 L590.02,474.76 L590.92,473.58 L591.82,472.39 L592.72,471.20 L593.62,470.01 L594.52,468.82 L595.42,467.63 L596.32,466.44 L597.22,465.25 L598.12,464.06 L599.02,462.87 L599.92,461.68 L600.82,460.49 L601.72,459.30 L602.62,458.11 L603.51,456.92 L604.41,455.73 L605.30,454.54 L606.20,453.35 L607.09,452.16 L607.99,450.96 L608.88,449.77 L609.77,448.58 L610.66,447.38 L611.55,446.19 L612.44,444.99 L613.33,443.80 L614.22,442.60 L615.10,441.40 L615.99,440.20 L616.87,439.01 L617.75,437.81 L618.64,436.61 L619.52,435.40 L620.39,434.20 L621.27,433.00 L622.15,431.79 L623.02,430.59 L623.90,429.38 L624.77,428.17 L625.64,426.97 L626.51,425.76 L627.38,424.54 L628.24,423.33 L629.11,422.12 L629.97,420.90 L630.83,419.69 L631.69,418.47 L632.55,417.25 L633.40,416.03 L634.25,414.81 L635.11,413.59 L635.96,412.36 L636.80,411.14 L637.65,409.91 L638.49,408.68 L639.33,407.45 L640.17,406.21 L641.01,404.98 L641.84,403.74 L642.68,402.50 L643.51,401.26 L644.33,400.02 L645.16,398.78 L645.98,397.53 L646.80,396.29 L647.62,395.04 L648.44,393.78 L649.25,392.53 L650.06,391.27 L650.87,390.02 L651.67,388.76 L652.48,387.49 L653.28,386.23 L654.07,384.96 L654.87,383.69 L655.66,382.42 L656.44,381.15 L657.23,379.87 L658.01,378.59 L658.79,377.31 L659.57,376.03 L660.34,374.74 L661.11,373.45 L661.88,372.16 L662.64,370.87 L663.40,369.57 L664.16,368.27 L664.91,366.97 L665.66,365.66 L666.41,364.36 L667.15,363.05 L667.89,361.73 L668.63,360.42 L669.36,359.10 L670.09,357.78 L670.81,356.45 L671.54,355.12 L672.25,353.79 L672.97,352.46 L673.68,351.12 L674.39,349.78" stroke="#e69f00"/><path d="M389.86,645.55 L391.47,645.65 L393.08,645.73 L394.68,645.78 L396.27,645.81 L397.86,645.82 L399.43,645.81 L401.00,645.78 L402.57,645.72 L404.12,645.64 L405.67,645.54 L407.21,645.42 L408.75,645.27 L410.27,645.11 L411.79,644.92 L413.31,644.72 L414.81,644.49 L416.31,644.24 L417.80,643.98 L419.28,643.69 L420.76,643.39 L422.23,643.06 L423.69,642.72 L425.14,642.36 L426.59,641.98 L428.03,641.58 L429.46,641.16 L430.88,640.72 L432.30,640.27 L433.71,639.80 L435.11,639.31 L436.50,638.80 L437.89,638.28 L439.27,637.74 L440.64,637.19 L442.01,636.62 L443.37,636.03 L444.72,635.43 L446.06,634.81 L447.39,634.17 L448.72,633.52 L450.04,632.86 L451.35,632.18 L452.66,631.49 L453.96,630.78 L455.25,630.06 L456.53,629.32 L457.80,628.57 L459.07,627.81 L460.33,627.03 L461.58,626.25 L462.83,625.44 L464.06,624.63 L465.29,623.80 L466.51,622.97 L467.73,622.12 L468.94,621.25 L470.13,620.38 L471.33,619.50 L472.51,618.60 L473.69,617.69 L474.85,616.78 L476.01,615.85 L477.17,614.91 L478.31,613.97 L479.45,613.01 L480.58,612.04 L481.70,611.07 L482.82,610.08 L483.92,609.09 L485.02,608.09 L486.11,607.07 L487.20,606.06 L488.27,605.03 L489.34,603.99 L490.40,602.95 L491.45,601.90 L492.50,600.85 L493.54,599.78 L494.57,598.71 L495.59,597.63 L496.61,596.55 L497.62,595.46 L498.62,594.36 L499.61,593.26 L500.60,592.15 L501.59,591.03 L502.56,589.91 L503.54,588.78 L504.50,587.65 L505.46,586.51 L506.41,585.37 L507.36,584.22 L508.30,583.07 L509.24,581.91 L510.18,580.74 L511.10,579.57 L512.03,578.40 L512.94,577.22 L513.86,576.04 L514.77,574.86 L515.67,573.67 L516.57,572.47 L517.47,571.28 L518.36,570.07 L519.25,568.87 L520.14,567.66 L521.02,566.45 L521.90,565.24 L522.78,564.02 L523.65,562.80 L524.52,561.58 L525.39,560.35 L526.25,559.13 L527.12,557.90 L527.98,556.66 L528.84,555.43 L529.69,554.19 L530.55,552.96 L531.40,551.72 L532.25,550.48 L533.10,549.24 L533.95,547.99 L534.79,546.75 L535.64,545.50 L536.49,544.26 L537.33,543.01 L538.17,541.76 L539.02,540.52 L539.86,539.27 L540.70,538.02 L541.54,536.77 L542.39,535.53 L543.23,534.28 L544.07,533.03 L544.92,531.79 L545.76,530.54 L546.60,529.30 L547.45,528.05 L548.30,526.81 L549.15,525.57 L549.99,524.33 L550.84,523.09 L551.70,521.85 L552.55,520.62 L553.40,519.38 L554.26,518.15 L555.12,516.92 L555.97,515.69 L556.83,514.46 L557.69,513.23 L558.55,512.00 L559.41,510.77 L560.28,509.55 L561.14,508.32 L562.01,507.10 L562.87,505.88 L563.74,504.66 L564.60,503.44 L565.47,502.22 L566.34,501.00 L567.21,499.78 L568.08,498.56 L568.95,497.34 L569.82,496.13 L570.69,494.91 L571.56,493.70 L572.43,492.48 L573.30,491.27 L574.18,490.06 L575.05,488.84 L575.92,487.63 L576.79,486.42 L577.67,485.21 L578.54,484.00 L579.41,482.79 L580.29,481.58 L581.16,480.37 L582.04,479.16 L582.91,477.95 L583.78,476.74 L584.66,475.53 L585.53,474.32 L586.40,473.11 L587.28,471.90 L588.15,470.69 L589.02,469.48 L589.89,468.27 L590.77,467.06 L591.64,465.85 L592.51,464.64 L593.38,463.43 L594.25,462.22 L595.12,461.01 L595.99,459.80 L596.85,458.59 L597.72,457.38 L598.59,456.17 L599.45,454.96 L600.32,453.74 L601.18,452.53 L602.05,451.32 L602.91,450.10 L603.77,448.89 L604.63,447.67 L605.49,446.46 L606.35,445.24 L607.21,444.02 L608.07,442.81 L608.92,441.59 L609.78,440.37 L610.63,439.15 L611.48,437.93 L612.33,436.70 L613.18,435.48 L614.03,434.26 L614.88,433.03 L615.72,431.81 L616.56,430.58 L617.41,429.35 L618.25,428.12 L619.09,426.89 L619.92,425.66 L620.76,424.43 L621.59,423.19 L622.43,421.96 L623.26,420.72 L624.09,419.48 L624.91,418.24 L625.74,417.00 L626.56,415.76 L627.38,414.52 L628.20,413.27 L629.02,412.03 L629.83,410.78 L630.65,409.53 L631.46,408.28 L632.27,407.02 L633.07,405.77 L633.88,404.51 L634.68,403.25 L635.48,401.99 L636.28,400.73 L637.07,399.47 L637.86,398.20 L638.65,396.94 L639.44,395.67 L640.23,394.39 L641.01,393.12 L641.79,391.85 L642.57,390.57 L643.34,389.29 L644.11,388.01 L644.88,386.72 L645.65,385.44 L646.41,384.15 L647.17,382.86 L647.93,381.56 L648.69,380.27 L649.44,378.97 L650.19,377.67 L650.93,376.37 L651.67,375.06 L652.41,373.75 L653.15,372.44 L653.88,371.13 L654.61,369.82 L655.34,368.50 L656.06,367.18 L656.78,365.85 L657.50,364.53 L658.21,363.20 L658.92,361.87 L659.63,360.53 L660.33,359.20 L661.03,357.86 L661.73,356.51 L662.42,355.17 L663.11,353.82 L663.79,352.47 L664.47,351.11 L665.15,349.75" stroke="#f0e442"/></g><text x="391.30" y="659.00" text-anchor="middle" class="tl">3</text><text x="432.37" y="659.00" text-anchor="middle" class="tl">4</text><text x="473.44" y="659.00" text-anchor="middle" class="tl">5</text><text x="514.51" y="659.00" text-anchor="middle" class="tl">6</text><text x="555.59" y="659.00" text-anchor="middle" class="tl">7</text><text x="596.66" y="659.00" text-anchor="middle" class="tl">8</text><text x="637.73" y="659.00" text-anchor="middle" class="tl">9</text><text x="678.80" y="659.00" text-anchor="middle" class="tl">10</text><text x="385.70" y="623.01" text-anchor="end" class="tl">2</text><text x="385.70" y="570.83" text-anchor="end" class="tl">4</text><text x="385.70" y="518.65" text-anchor="end" class="tl">6</text><text x="385.70" y="466.46" text-anchor="end" class="tl">8</text><text x="385.70" y="414.28" text-anchor="end" class="tl">10</text><text x="385.70" y="362.10" text-anchor="end" class="tl">12</text><text x="534.25" y="683.00" text-anchor="middle" class="al">r (Å)</text><text transform="translate(369.00,502.00) rotate(-90)" text-anchor="middle" class="al2">Cumulative number</text><text x="272.30" y="19.00" text-anchor="end" class="lg">Phe100 - CZ - CZ</text><line x1="278.8" y1="14.90" x2="309.3" y2="14.90" stroke="#9400d3" stroke-width="1.6"/><text x="272.30" y="32.30" text-anchor="end" class="lg">Phe200 - CZ - CZ</text><line x1="278.8" y1="28.20" x2="309.3" y2="28.20" stroke="#009e73" stroke-width="1.6"/><text x="272.30" y="45.60" text-anchor="end" class="lg">Phe300 - CZ - CZ</text><line x1="278.8" y1="41.50" x2="309.3" y2="41.50" stroke="#56b4e9" stroke-width="1.6"/><text x="272.30" y="58.90" text-anchor="end" class="lg">Phe400 - CZ - CZ</text><line x1="278.8" y1="54.80" x2="309.3" y2="54.80" stroke="#e69f00" stroke-width="1.6"/><text x="272.30" y="72.20" text-anchor="end" class="lg">Phe500 - CZ - CZ</text><line x1="278.8" y1="68.10" x2="309.3" y2="68.10" stroke="#f0e442" stroke-width="1.6"/><text x="629.70" y="19.00" text-anchor="end" class="lg">Phe100 - CZ - CG</text><line x1="636.7" y1="14.90" x2="666.9" y2="14.90" stroke="#9400d3" stroke-width="1.6"/><text x="629.70" y="32.30" text-anchor="end" class="lg">Phe200 - CZ - CG</text><line x1="636.7" y1="28.20" x2="666.9" y2="28.20" stroke="#009e73" stroke-width="1.6"/><text x="629.70" y="45.60" text-anchor="end" class="lg">Phe300 - CZ - CG</text><line x1="636.7" y1="41.50" x2="666.9" y2="41.50" stroke="#56b4e9" stroke-width="1.6"/><text x="629.70" y="58.90" text-anchor="end" class="lg">Phe400 - CZ - CG</text><line x1="636.7" y1="54.80" x2="666.9" y2="54.80" stroke="#e69f00" stroke-width="1.6"/><text x="629.70" y="72.20" text-anchor="end" class="lg">Phe500 - CZ - CG</text><line x1="636.7" y1="68.10" x2="666.9" y2="68.10" stroke="#f0e442" stroke-width="1.6"/><g><line x1="219.30" y1="90.50" x2="223.00" y2="98.00" stroke="#dcdcdc" stroke-width="0.55"/><line x1="219.30" y1="90.50" x2="224.20" y2="96.00" stroke="#dcdcdc" stroke-width="0.55"/><line x1="223.00" y1="98.00" x2="225.30" y2="100.30" stroke="#dcdcdc" stroke-width="0.55"/><line x1="223.00" y1="98.00" x2="222.00" y2="102.50" stroke="#dcdcdc" stroke-width="0.55"/><line x1="225.30" y1="100.30" x2="222.00" y2="102.50" stroke="#dcdcdc" stroke-width="0.55"/><line x1="225.30" y1="100.30" x2="224.20" y2="96.00" stroke="#dcdcdc" stroke-width="0.55"/><line x1="225.30" y1="100.30" x2="228.00" y2="109.00" stroke="#dcdcdc" stroke-width="0.55"/><line x1="222.00" y1="102.50" x2="224.20" y2="96.00" stroke="#dcdcdc" stroke-width="0.55"/><line x1="222.00" y1="102.50" x2="228.00" y2="109.00" stroke="#dcdcdc" stroke-width="0.55"/><line x1="228.00" y1="109.00" x2="226.40" y2="113.50" stroke="#dcdcdc" stroke-width="0.55"/><line x1="228.00" y1="109.00" x2="229.20" y2="115.70" stroke="#dcdcdc" stroke-width="0.55"/><line x1="226.40" y1="113.50" x2="229.20" y2="115.70" stroke="#dcdcdc" stroke-width="0.55"/><line x1="226.40" y1="113.50" x2="228.60" y2="111.30" stroke="#dcdcdc" stroke-width="0.55"/><line x1="229.20" y1="115.70" x2="228.60" y2="111.30" stroke="#dcdcdc" stroke-width="0.55"/><line x1="231.90" y1="125.50" x2="229.20" y2="128.80" stroke="#dcdcdc" stroke-width="0.55"/><line x1="231.90" y1="125.50" x2="229.70" y2="131.00" stroke="#dcdcdc" stroke-width="0.55"/><line x1="231.90" y1="125.50" x2="240.10" y2="125.00" stroke="#dcdcdc" stroke-width="0.55"/><line x1="214.40" y1="136.50" x2="218.80" y2="135.40" stroke="#dcdcdc" stroke-width="0.55"/><line x1="214.40" y1="136.50" x2="216.60" y2="138.70" stroke="#dcdcdc" stroke-width="0.55"/><line x1="214.40" y1="136.50" x2="216.00" y2="144.00" stroke="#dcdcdc" stroke-width="0.55"/><line x1="218.80" y1="135.40" x2="216.60" y2="138.70" stroke="#dcdcdc" stroke-width="0.55"/><line x1="218.80" y1="135.40" x2="216.00" y2="144.00" stroke="#dcdcdc" stroke-width="0.55"/><line x1="216.60" y1="138.70" x2="216.00" y2="144.00" stroke="#dcdcdc" stroke-width="0.55"/><line x1="216.60" y1="138.70" x2="215.50" y2="146.30" stroke="#dcdcdc" stroke-width="0.55"/><line x1="216.00" y1="144.00" x2="222.00" y2="147.00" stroke="#dcdcdc" stroke-width="0.55"/><line x1="215.50" y1="146.30" x2="222.00" y2="147.00" stroke="#dcdcdc" stroke-width="0.55"/><line x1="234.10" y1="139.80" x2="233.50" y2="143.00" stroke="#dcdcdc" stroke-width="0.55"/><line x1="234.10" y1="139.80" x2="241.20" y2="139.20" stroke="#dcdcdc" stroke-width="0.55"/><line x1="234.10" y1="139.80" x2="231.50" y2="147.50" stroke="#dcdcdc" stroke-width="0.55"/><line x1="233.50" y1="143.00" x2="241.20" y2="139.20" stroke="#dcdcdc" stroke-width="0.55"/><line x1="233.50" y1="143.00" x2="231.50" y2="147.50" stroke="#dcdcdc" stroke-width="0.55"/><line x1="233.50" y1="143.00" x2="236.00" y2="150.00" stroke="#dcdcdc" stroke-width="0.55"/><line x1="231.50" y1="147.50" x2="236.00" y2="150.00" stroke="#dcdcdc" stroke-width="0.55"/><line x1="258.70" y1="93.20" x2="260.90" y2="100.30" stroke="#dcdcdc" stroke-width="0.55"/><line x1="260.90" y1="100.30" x2="268.60" y2="102.50" stroke="#dcdcdc" stroke-width="0.55"/><line x1="260.90" y1="100.30" x2="256.50" y2="107.50" stroke="#dcdcdc" stroke-width="0.55"/><line x1="268.60" y1="102.50" x2="273.00" y2="97.60" stroke="#dcdcdc" stroke-width="0.55"/><line x1="256.50" y1="107.50" x2="250.50" y2="106.40" stroke="#dcdcdc" stroke-width="0.55"/><line x1="272.40" y1="111.80" x2="278.50" y2="114.00" stroke="#dcdcdc" stroke-width="0.55"/><line x1="259.80" y1="117.30" x2="266.40" y2="119.50" stroke="#dcdcdc" stroke-width="0.55"/><line x1="259.80" y1="117.30" x2="257.60" y2="123.90" stroke="#dcdcdc" stroke-width="0.55"/><line x1="269.70" y1="129.40" x2="277.90" y2="129.40" stroke="#dcdcdc" stroke-width="0.55"/><line x1="269.70" y1="129.40" x2="267.00" y2="134.80" stroke="#dcdcdc" stroke-width="0.55"/><line x1="251.00" y1="136.50" x2="256.00" y2="137.60" stroke="#dcdcdc" stroke-width="0.55"/><line x1="251.00" y1="136.50" x2="253.80" y2="140.90" stroke="#dcdcdc" stroke-width="0.55"/><line x1="256.00" y1="137.60" x2="253.80" y2="140.90" stroke="#dcdcdc" stroke-width="0.55"/><line x1="256.00" y1="137.60" x2="253.30" y2="145.80" stroke="#dcdcdc" stroke-width="0.55"/><line x1="253.80" y1="140.90" x2="253.30" y2="145.80" stroke="#dcdcdc" stroke-width="0.55"/><line x1="271.90" y1="144.10" x2="278.50" y2="143.60" stroke="#dcdcdc" stroke-width="0.55"/><line x1="271.90" y1="144.10" x2="270.00" y2="149.00" stroke="#dcdcdc" stroke-width="0.55"/><line x1="271.90" y1="144.10" x2="274.00" y2="152.00" stroke="#dcdcdc" stroke-width="0.55"/><line x1="271.90" y1="144.10" x2="266.00" y2="150.00" stroke="#dcdcdc" stroke-width="0.55"/><line x1="270.00" y1="149.00" x2="274.00" y2="152.00" stroke="#dcdcdc" stroke-width="0.55"/><line x1="270.00" y1="149.00" x2="266.00" y2="150.00" stroke="#dcdcdc" stroke-width="0.55"/><line x1="274.00" y1="152.00" x2="266.00" y2="150.00" stroke="#dcdcdc" stroke-width="0.55"/><line x1="240.00" y1="184.00" x2="245.00" y2="189.00" stroke="#dcdcdc" stroke-width="0.55"/><line x1="262.00" y1="168.00" x2="270.00" y2="169.00" stroke="#dcdcdc" stroke-width="0.55"/><line x1="270.00" y1="169.00" x2="276.00" y2="176.00" stroke="#dcdcdc" stroke-width="0.55"/><line x1="277.00" y1="187.00" x2="283.00" y2="190.00" stroke="#dcdcdc" stroke-width="0.55"/><line x1="260.90" y1="100.30" x2="268.60" y2="102.50" stroke="#dcdcdc" stroke-width="0.55"/><line x1="268.60" y1="102.50" x2="272.40" y2="111.80" stroke="#dcdcdc" stroke-width="0.55"/><line x1="272.40" y1="111.80" x2="266.40" y2="119.50" stroke="#dcdcdc" stroke-width="0.55"/><line x1="266.40" y1="119.50" x2="259.80" y2="117.30" stroke="#dcdcdc" stroke-width="0.55"/><line x1="259.80" y1="117.30" x2="256.50" y2="107.50" stroke="#dcdcdc" stroke-width="0.55"/><line x1="256.50" y1="107.50" x2="260.90" y2="100.30" stroke="#dcdcdc" stroke-width="0.55"/><line x1="266.40" y1="119.50" x2="269.70" y2="129.40" stroke="#dcdcdc" stroke-width="0.55"/><line x1="269.70" y1="129.40" x2="267.00" y2="134.80" stroke="#dcdcdc" stroke-width="0.55"/><line x1="267.00" y1="134.80" x2="271.90" y2="144.10" stroke="#dcdcdc" stroke-width="0.55"/><line x1="271.90" y1="144.10" x2="270.00" y2="149.00" stroke="#dcdcdc" stroke-width="0.55"/><line x1="223.50" y1="99.00" x2="228.00" y2="112.00" stroke="#dcdcdc" stroke-width="0.55"/><line x1="228.00" y1="112.00" x2="230.30" y2="128.00" stroke="#dcdcdc" stroke-width="0.55"/><line x1="230.30" y1="128.00" x2="233.80" y2="141.40" stroke="#dcdcdc" stroke-width="0.55"/><line x1="230.30" y1="128.00" x2="217.00" y2="137.00" stroke="#dcdcdc" stroke-width="0.55"/><line x1="217.00" y1="137.00" x2="216.00" y2="144.00" stroke="#dcdcdc" stroke-width="0.55"/><line x1="256.00" y1="137.60" x2="267.00" y2="134.80" stroke="#dcdcdc" stroke-width="0.55"/><line x1="253.50" y1="141.00" x2="253.30" y2="145.80" stroke="#dcdcdc" stroke-width="0.55"/><line x1="214.40" y1="136.50" x2="218.80" y2="135.40" stroke="#dcdcdc" stroke-width="0.55"/><line x1="251.00" y1="136.50" x2="256.00" y2="137.60" stroke="#dcdcdc" stroke-width="0.55"/><circle cx="219.30" cy="90.50" r="1.50" fill="#fbfbfb" fill-opacity="0.6" stroke="#c4c4c4" stroke-width="0.45"/><circle cx="223.00" cy="98.00" r="2.20" fill="#fbfbfb" fill-opacity="0.6" stroke="#c4c4c4" stroke-width="0.45"/><circle cx="225.30" cy="100.30" r="2.20" fill="#fbfbfb" fill-opacity="0.6" stroke="#c4c4c4" stroke-width="0.45"/><circle cx="222.00" cy="102.50" r="2.20" fill="#fbfbfb" fill-opacity="0.6" stroke="#c4c4c4" stroke-width="0.45"/><circle cx="224.20" cy="96.00" r="2.20" fill="#fbfbfb" fill-opacity="0.6" stroke="#c4c4c4" stroke-width="0.45"/><circle cx="228.00" cy="109.00" r="2.20" fill="#fbfbfb" fill-opacity="0.6" stroke="#c4c4c4" stroke-width="0.45"/><circle cx="226.40" cy="113.50" r="2.20" fill="#fbfbfb" fill-opacity="0.6" stroke="#c4c4c4" stroke-width="0.45"/><circle cx="229.20" cy="115.70" r="2.20" fill="#fbfbfb" fill-opacity="0.6" stroke="#c4c4c4" stroke-width="0.45"/><circle cx="228.60" cy="111.30" r="2.20" fill="#fbfbfb" fill-opacity="0.6" stroke="#c4c4c4" stroke-width="0.45"/><circle cx="231.90" cy="125.50" r="2.20" fill="#fbfbfb" fill-opacity="0.6" stroke="#c4c4c4" stroke-width="0.45"/><circle cx="229.20" cy="128.80" r="2.20" fill="#fbfbfb" fill-opacity="0.6" stroke="#c4c4c4" stroke-width="0.45"/><circle cx="229.70" cy="131.00" r="2.20" fill="#fbfbfb" fill-opacity="0.6" stroke="#c4c4c4" stroke-width="0.45"/><circle cx="240.10" cy="125.00" r="1.50" fill="#fbfbfb" fill-opacity="0.6" stroke="#c4c4c4" stroke-width="0.45"/><circle cx="214.40" cy="136.50" r="2.20" fill="#fbfbfb" fill-opacity="0.6" stroke="#c4c4c4" stroke-width="0.45"/><circle cx="218.80" cy="135.40" r="2.20" fill="#fbfbfb" fill-opacity="0.6" stroke="#c4c4c4" stroke-width="0.45"/><circle cx="216.60" cy="138.70" r="2.20" fill="#fbfbfb" fill-opacity="0.6" stroke="#c4c4c4" stroke-width="0.45"/><circle cx="216.00" cy="144.00" r="1.80" fill="#fbfbfb" fill-opacity="0.6" stroke="#c4c4c4" stroke-width="0.45"/><circle cx="215.50" cy="146.30" r="1.80" fill="#fbfbfb" fill-opacity="0.6" stroke="#c4c4c4" stroke-width="0.45"/><circle cx="234.10" cy="139.80" r="2.20" fill="#fbfbfb" fill-opacity="0.6" stroke="#c4c4c4" stroke-width="0.45"/><circle cx="233.50" cy="143.00" r="2.00" fill="#fbfbfb" fill-opacity="0.6" stroke="#c4c4c4" stroke-width="0.45"/><circle cx="241.20" cy="139.20" r="1.50" fill="#fbfbfb" fill-opacity="0.6" stroke="#c4c4c4" stroke-width="0.45"/><circle cx="231.50" cy="147.50" r="1.60" fill="#fbfbfb" fill-opacity="0.6" stroke="#c4c4c4" stroke-width="0.45"/><circle cx="236.00" cy="150.00" r="1.60" fill="#fbfbfb" fill-opacity="0.6" stroke="#c4c4c4" stroke-width="0.45"/><circle cx="222.00" cy="147.00" r="1.50" fill="#fbfbfb" fill-opacity="0.6" stroke="#c4c4c4" stroke-width="0.45"/><circle cx="258.70" cy="93.20" r="1.50" fill="#fbfbfb" fill-opacity="0.6" stroke="#c4c4c4" stroke-width="0.45"/><circle cx="260.90" cy="100.30" r="2.20" fill="#fbfbfb" fill-opacity="0.6" stroke="#c4c4c4" stroke-width="0.45"/><circle cx="268.60" cy="102.50" r="2.20" fill="#fbfbfb" fill-opacity="0.6" stroke="#c4c4c4" stroke-width="0.45"/><circle cx="273.00" cy="97.60" r="1.50" fill="#fbfbfb" fill-opacity="0.6" stroke="#c4c4c4" stroke-width="0.45"/><circle cx="256.50" cy="107.50" r="2.20" fill="#fbfbfb" fill-opacity="0.6" stroke="#c4c4c4" stroke-width="0.45"/><circle cx="250.50" cy="106.40" r="1.50" fill="#fbfbfb" fill-opacity="0.6" stroke="#c4c4c4" stroke-width="0.45"/><circle cx="272.40" cy="111.80" r="2.20" fill="#fbfbfb" fill-opacity="0.6" stroke="#c4c4c4" stroke-width="0.45"/><circle cx="278.50" cy="114.00" r="1.50" fill="#fbfbfb" fill-opacity="0.6" stroke="#c4c4c4" stroke-width="0.45"/><circle cx="259.80" cy="117.30" r="2.20" fill="#fbfbfb" fill-opacity="0.6" stroke="#c4c4c4" stroke-width="0.45"/><circle cx="266.40" cy="119.50" r="2.20" fill="#fbfbfb" fill-opacity="0.6" stroke="#c4c4c4" stroke-width="0.45"/><circle cx="257.60" cy="123.90" r="1.50" fill="#fbfbfb" fill-opacity="0.6" stroke="#c4c4c4" stroke-width="0.45"/><circle cx="269.70" cy="129.40" r="2.20" fill="#fbfbfb" fill-opacity="0.6" stroke="#c4c4c4" stroke-width="0.45"/><circle cx="277.90" cy="129.40" r="1.50" fill="#fbfbfb" fill-opacity="0.6" stroke="#c4c4c4" stroke-width="0.45"/><circle cx="267.00" cy="134.80" r="2.20" fill="#fbfbfb" fill-opacity="0.6" stroke="#c4c4c4" stroke-width="0.45"/><circle cx="251.00" cy="136.50" r="2.20" fill="#fbfbfb" fill-opacity="0.6" stroke="#c4c4c4" stroke-width="0.45"/><circle cx="256.00" cy="137.60" r="2.20" fill="#fbfbfb" fill-opacity="0.6" stroke="#c4c4c4" stroke-width="0.45"/><circle cx="253.80" cy="140.90" r="2.00" fill="#fbfbfb" fill-opacity="0.6" stroke="#c4c4c4" stroke-width="0.45"/><circle cx="253.30" cy="145.80" r="1.80" fill="#fbfbfb" fill-opacity="0.6" stroke="#c4c4c4" stroke-width="0.45"/><circle cx="271.90" cy="144.10" r="2.20" fill="#fbfbfb" fill-opacity="0.6" stroke="#c4c4c4" stroke-width="0.45"/><circle cx="278.50" cy="143.60" r="1.50" fill="#fbfbfb" fill-opacity="0.6" stroke="#c4c4c4" stroke-width="0.45"/><circle cx="270.00" cy="149.00" r="1.80" fill="#fbfbfb" fill-opacity="0.6" stroke="#c4c4c4" stroke-width="0.45"/><circle cx="274.00" cy="152.00" r="1.80" fill="#fbfbfb" fill-opacity="0.6" stroke="#c4c4c4" stroke-width="0.45"/><circle cx="266.00" cy="150.00" r="1.60" fill="#fbfbfb" fill-opacity="0.6" stroke="#c4c4c4" stroke-width="0.45"/><circle cx="225.00" cy="165.00" r="2.20" fill="#fbfbfb" fill-opacity="0.6" stroke="#c4c4c4" stroke-width="0.45"/><circle cx="236.00" cy="170.00" r="1.80" fill="#fbfbfb" fill-opacity="0.6" stroke="#c4c4c4" stroke-width="0.45"/><circle cx="226.00" cy="180.00" r="2.20" fill="#fbfbfb" fill-opacity="0.6" stroke="#c4c4c4" stroke-width="0.45"/><circle cx="240.00" cy="184.00" r="1.80" fill="#fbfbfb" fill-opacity="0.6" stroke="#c4c4c4" stroke-width="0.45"/><circle cx="245.00" cy="189.00" r="1.50" fill="#fbfbfb" fill-opacity="0.6" stroke="#c4c4c4" stroke-width="0.45"/><circle cx="214.00" cy="171.00" r="1.60" fill="#fbfbfb" fill-opacity="0.6" stroke="#c4c4c4" stroke-width="0.45"/><circle cx="262.00" cy="168.00" r="2.20" fill="#fbfbfb" fill-opacity="0.6" stroke="#c4c4c4" stroke-width="0.45"/><circle cx="270.00" cy="169.00" r="1.80" fill="#fbfbfb" fill-opacity="0.6" stroke="#c4c4c4" stroke-width="0.45"/><circle cx="276.00" cy="176.00" r="2.00" fill="#fbfbfb" fill-opacity="0.6" stroke="#c4c4c4" stroke-width="0.45"/><circle cx="260.00" cy="183.00" r="2.20" fill="#fbfbfb" fill-opacity="0.6" stroke="#c4c4c4" stroke-width="0.45"/><circle cx="277.00" cy="187.00" r="1.80" fill="#fbfbfb" fill-opacity="0.6" stroke="#c4c4c4" stroke-width="0.45"/><circle cx="283.00" cy="190.00" r="1.50" fill="#fbfbfb" fill-opacity="0.6" stroke="#c4c4c4" stroke-width="0.45"/><circle cx="250.00" cy="176.00" r="1.60" fill="#fbfbfb" fill-opacity="0.6" stroke="#c4c4c4" stroke-width="0.45"/><line x1="208.30" y1="149.60" x2="201.70" y2="150.90" stroke="#b8b8b8" stroke-width="0.90" stroke-linecap="round"/><line x1="208.30" y1="149.60" x2="205.00" y2="150.25" stroke="#3a44d8" stroke-width="1.10" stroke-linecap="round"/><line x1="208.30" y1="149.60" x2="209.20" y2="143.90" stroke="#b8b8b8" stroke-width="0.90" stroke-linecap="round"/><line x1="208.30" y1="149.60" x2="208.75" y2="146.75" stroke="#3a44d8" stroke-width="1.10" stroke-linecap="round"/><line x1="213.10" y1="157.50" x2="207.00" y2="163.60" stroke="#b8b8b8" stroke-width="0.90" stroke-linecap="round"/><line x1="228.80" y1="169.30" x2="231.00" y2="163.60" stroke="#b8b8b8" stroke-width="0.90" stroke-linecap="round"/><line x1="235.00" y1="177.60" x2="242.00" y2="175.80" stroke="#b8b8b8" stroke-width="0.90" stroke-linecap="round"/><line x1="217.50" y1="178.90" x2="210.50" y2="179.30" stroke="#b8b8b8" stroke-width="0.90" stroke-linecap="round"/><line x1="223.20" y1="187.20" x2="221.40" y2="192.90" stroke="#b8b8b8" stroke-width="0.90" stroke-linecap="round"/><line x1="232.80" y1="185.90" x2="236.50" y2="191.80" stroke="#b8b8b8" stroke-width="0.90" stroke-linecap="round"/><circle cx="201.70" cy="150.90" r="1.00" fill="#dedede" stroke="#c8c8c8" stroke-width="0.30"/><circle cx="209.20" cy="143.90" r="1.00" fill="#dedede" stroke="#c8c8c8" stroke-width="0.30"/><circle cx="207.00" cy="163.60" r="1.00" fill="#dedede" stroke="#c8c8c8" stroke-width="0.30"/><circle cx="231.00" cy="163.60" r="1.00" fill="#dedede" stroke="#c8c8c8" stroke-width="0.30"/><circle cx="242.00" cy="175.80" r="1.00" fill="#dedede" stroke="#c8c8c8" stroke-width="0.30"/><circle cx="210.50" cy="179.30" r="1.00" fill="#dedede" stroke="#c8c8c8" stroke-width="0.30"/><circle cx="221.40" cy="192.90" r="1.00" fill="#dedede" stroke="#c8c8c8" stroke-width="0.30"/><circle cx="236.50" cy="191.80" r="1.00" fill="#dedede" stroke="#c8c8c8" stroke-width="0.30"/><line x1="213.10" y1="157.50" x2="223.60" y2="155.70" stroke="#8a8a8a" stroke-width="1.70" stroke-linecap="round"/><line x1="213.10" y1="157.50" x2="219.70" y2="170.20" stroke="#8a8a8a" stroke-width="1.70" stroke-linecap="round"/><line x1="219.70" y1="170.20" x2="228.80" y2="169.30" stroke="#8a8a8a" stroke-width="1.70" stroke-linecap="round"/><line x1="228.80" y1="169.30" x2="235.00" y2="177.60" stroke="#8a8a8a" stroke-width="1.70" stroke-linecap="round"/><line x1="235.00" y1="177.60" x2="232.80" y2="185.90" stroke="#8a8a8a" stroke-width="1.70" stroke-linecap="round"/><line x1="232.80" y1="185.90" x2="223.20" y2="187.20" stroke="#8a8a8a" stroke-width="1.70" stroke-linecap="round"/><line x1="223.20" y1="187.20" x2="217.50" y2="178.90" stroke="#8a8a8a" stroke-width="1.70" stroke-linecap="round"/><line x1="217.50" y1="178.90" x2="219.70" y2="170.20" stroke="#8a8a8a" stroke-width="1.70" stroke-linecap="round"/><line x1="210.70" y1="153.55" x2="213.10" y2="157.50" stroke="#6c6c6c" stroke-width="1.60" stroke-linecap="round"/><line x1="208.30" y1="149.60" x2="210.70" y2="153.55" stroke="#2430d8" stroke-width="1.60" stroke-linecap="round"/><line x1="223.60" y1="155.70" x2="226.20" y2="153.10" stroke="#8c8c8c" stroke-width="1.60" stroke-linecap="round"/><line x1="226.20" y1="153.10" x2="228.80" y2="150.50" stroke="#d82828" stroke-width="1.60" stroke-linecap="round"/><line x1="223.60" y1="155.70" x2="224.45" y2="157.05" stroke="#8c8c8c" stroke-width="1.60" stroke-linecap="round"/><line x1="224.45" y1="157.05" x2="225.30" y2="158.40" stroke="#d82828" stroke-width="1.60" stroke-linecap="round"/><circle cx="213.10" cy="157.50" r="0.90" fill="#555"/><circle cx="232.80" cy="185.90" r="2.90" fill="url(#ballg)"/><line x1="246.30" y1="151.40" x2="239.70" y2="151.80" stroke="#b8b8b8" stroke-width="0.90" stroke-linecap="round"/><line x1="246.30" y1="151.40" x2="243.00" y2="151.60" stroke="#3a44d8" stroke-width="1.10" stroke-linecap="round"/><line x1="246.30" y1="151.40" x2="247.60" y2="146.10" stroke="#b8b8b8" stroke-width="0.90" stroke-linecap="round"/><line x1="246.30" y1="151.40" x2="246.95" y2="148.75" stroke="#3a44d8" stroke-width="1.10" stroke-linecap="round"/><line x1="250.20" y1="161.00" x2="242.80" y2="165.30" stroke="#b8b8b8" stroke-width="0.90" stroke-linecap="round"/><line x1="264.70" y1="173.20" x2="266.00" y2="166.20" stroke="#b8b8b8" stroke-width="0.90" stroke-linecap="round"/><line x1="269.00" y1="181.10" x2="274.70" y2="180.20" stroke="#b8b8b8" stroke-width="0.90" stroke-linecap="round"/><line x1="252.40" y1="182.00" x2="247.20" y2="182.80" stroke="#b8b8b8" stroke-width="0.90" stroke-linecap="round"/><line x1="257.70" y1="190.30" x2="255.50" y2="195.50" stroke="#b8b8b8" stroke-width="0.90" stroke-linecap="round"/><line x1="266.40" y1="189.80" x2="269.90" y2="196.00" stroke="#b8b8b8" stroke-width="0.90" stroke-linecap="round"/><circle cx="239.70" cy="151.80" r="1.00" fill="#dedede" stroke="#c8c8c8" stroke-width="0.30"/><circle cx="247.60" cy="146.10" r="1.00" fill="#dedede" stroke="#c8c8c8" stroke-width="0.30"/><circle cx="242.80" cy="165.30" r="1.00" fill="#dedede" stroke="#c8c8c8" stroke-width="0.30"/><circle cx="266.00" cy="166.20" r="1.00" fill="#dedede" stroke="#c8c8c8" stroke-width="0.30"/><circle cx="274.70" cy="180.20" r="1.00" fill="#dedede" stroke="#c8c8c8" stroke-width="0.30"/><circle cx="247.20" cy="182.80" r="1.00" fill="#dedede" stroke="#c8c8c8" stroke-width="0.30"/><circle cx="255.50" cy="195.50" r="1.00" fill="#dedede" stroke="#c8c8c8" stroke-width="0.30"/><circle cx="269.90" cy="196.00" r="1.00" fill="#dedede" stroke="#c8c8c8" stroke-width="0.30"/><line x1="250.20" y1="161.00" x2="259.90" y2="158.80" stroke="#8a8a8a" stroke-width="1.70" stroke-linecap="round"/><line x1="250.20" y1="161.00" x2="255.50" y2="173.20" stroke="#8a8a8a" stroke-width="1.70" stroke-linecap="round"/><line x1="255.50" y1="173.20" x2="264.70" y2="173.20" stroke="#8a8a8a" stroke-width="1.70" stroke-linecap="round"/><line x1="264.70" y1="173.20" x2="269.00" y2="181.10" stroke="#8a8a8a" stroke-width="1.70" stroke-linecap="round"/><line x1="269.00" y1="181.10" x2="266.40" y2="189.80" stroke="#8a8a8a" stroke-width="1.70" stroke-linecap="round"/><line x1="266.40" y1="189.80" x2="257.70" y2="190.30" stroke="#8a8a8a" stroke-width="1.70" stroke-linecap="round"/><line x1="257.70" y1="190.30" x2="252.40" y2="182.00" stroke="#8a8a8a" stroke-width="1.70" stroke-linecap="round"/><line x1="252.40" y1="182.00" x2="255.50" y2="173.20" stroke="#8a8a8a" stroke-width="1.70" stroke-linecap="round"/><line x1="248.25" y1="156.20" x2="250.20" y2="161.00" stroke="#6c6c6c" stroke-width="1.60" stroke-linecap="round"/><line x1="246.30" y1="151.40" x2="248.25" y2="156.20" stroke="#2430d8" stroke-width="1.60" stroke-linecap="round"/><line x1="259.90" y1="158.80" x2="262.30" y2="156.60" stroke="#8c8c8c" stroke-width="1.60" stroke-linecap="round"/><line x1="262.30" y1="156.60" x2="264.70" y2="154.40" stroke="#d82828" stroke-width="1.60" stroke-linecap="round"/><line x1="259.90" y1="158.80" x2="260.95" y2="159.65" stroke="#8c8c8c" stroke-width="1.60" stroke-linecap="round"/><line x1="260.95" y1="159.65" x2="262.00" y2="160.50" stroke="#d82828" stroke-width="1.60" stroke-linecap="round"/><circle cx="250.20" cy="161.00" r="0.90" fill="#555"/><circle cx="266.40" cy="189.80" r="2.90" fill="url(#ballg)"/><text transform="translate(233.20,194.60) scale(0.92,1)" class="ml" style="font-size:7.6px">CZ</text><text transform="translate(272.30,198.50) scale(0.92,1)" class="ml" style="font-size:7.6px">CZ</text></g><g><line x1="431.59" y1="26.57" x2="435.77" y2="35.04" stroke="#dcdcdc" stroke-width="0.62"/><line x1="431.59" y1="26.57" x2="437.12" y2="32.78" stroke="#dcdcdc" stroke-width="0.62"/><line x1="435.77" y1="35.04" x2="438.36" y2="37.64" stroke="#dcdcdc" stroke-width="0.62"/><line x1="435.77" y1="35.04" x2="434.64" y2="40.12" stroke="#dcdcdc" stroke-width="0.62"/><line x1="438.36" y1="37.64" x2="434.64" y2="40.12" stroke="#dcdcdc" stroke-width="0.62"/><line x1="438.36" y1="37.64" x2="437.12" y2="32.78" stroke="#dcdcdc" stroke-width="0.62"/><line x1="438.36" y1="37.64" x2="441.41" y2="47.46" stroke="#dcdcdc" stroke-width="0.62"/><line x1="434.64" y1="40.12" x2="437.12" y2="32.78" stroke="#dcdcdc" stroke-width="0.62"/><line x1="434.64" y1="40.12" x2="441.41" y2="47.46" stroke="#dcdcdc" stroke-width="0.62"/><line x1="441.41" y1="47.46" x2="439.61" y2="52.54" stroke="#dcdcdc" stroke-width="0.62"/><line x1="441.41" y1="47.46" x2="442.77" y2="55.03" stroke="#dcdcdc" stroke-width="0.62"/><line x1="439.61" y1="52.54" x2="442.77" y2="55.03" stroke="#dcdcdc" stroke-width="0.62"/><line x1="439.61" y1="52.54" x2="442.09" y2="50.06" stroke="#dcdcdc" stroke-width="0.62"/><line x1="442.77" y1="55.03" x2="442.09" y2="50.06" stroke="#dcdcdc" stroke-width="0.62"/><line x1="445.82" y1="66.09" x2="442.77" y2="69.82" stroke="#dcdcdc" stroke-width="0.62"/><line x1="445.82" y1="66.09" x2="443.33" y2="72.30" stroke="#dcdcdc" stroke-width="0.62"/><line x1="445.82" y1="66.09" x2="455.07" y2="65.53" stroke="#dcdcdc" stroke-width="0.62"/><line x1="426.06" y1="78.51" x2="431.03" y2="77.27" stroke="#dcdcdc" stroke-width="0.62"/><line x1="426.06" y1="78.51" x2="428.54" y2="80.99" stroke="#dcdcdc" stroke-width="0.62"/><line x1="426.06" y1="78.51" x2="427.86" y2="86.98" stroke="#dcdcdc" stroke-width="0.62"/><line x1="431.03" y1="77.27" x2="428.54" y2="80.99" stroke="#dcdcdc" stroke-width="0.62"/><line x1="431.03" y1="77.27" x2="427.86" y2="86.98" stroke="#dcdcdc" stroke-width="0.62"/><line x1="428.54" y1="80.99" x2="427.86" y2="86.98" stroke="#dcdcdc" stroke-width="0.62"/><line x1="428.54" y1="80.99" x2="427.30" y2="89.57" stroke="#dcdcdc" stroke-width="0.62"/><line x1="427.86" y1="86.98" x2="434.64" y2="90.36" stroke="#dcdcdc" stroke-width="0.62"/><line x1="427.30" y1="89.57" x2="434.64" y2="90.36" stroke="#dcdcdc" stroke-width="0.62"/><line x1="448.30" y1="82.23" x2="447.62" y2="85.85" stroke="#dcdcdc" stroke-width="0.62"/><line x1="448.30" y1="82.23" x2="456.31" y2="81.56" stroke="#dcdcdc" stroke-width="0.62"/><line x1="448.30" y1="82.23" x2="445.36" y2="90.93" stroke="#dcdcdc" stroke-width="0.62"/><line x1="447.62" y1="85.85" x2="456.31" y2="81.56" stroke="#dcdcdc" stroke-width="0.62"/><line x1="447.62" y1="85.85" x2="445.36" y2="90.93" stroke="#dcdcdc" stroke-width="0.62"/><line x1="447.62" y1="85.85" x2="450.44" y2="93.75" stroke="#dcdcdc" stroke-width="0.62"/><line x1="445.36" y1="90.93" x2="450.44" y2="93.75" stroke="#dcdcdc" stroke-width="0.62"/><line x1="476.07" y1="29.62" x2="478.56" y2="37.64" stroke="#dcdcdc" stroke-width="0.62"/><line x1="478.56" y1="37.64" x2="487.25" y2="40.12" stroke="#dcdcdc" stroke-width="0.62"/><line x1="478.56" y1="37.64" x2="473.59" y2="45.77" stroke="#dcdcdc" stroke-width="0.62"/><line x1="487.25" y1="40.12" x2="492.22" y2="34.59" stroke="#dcdcdc" stroke-width="0.62"/><line x1="473.59" y1="45.77" x2="466.81" y2="44.53" stroke="#dcdcdc" stroke-width="0.62"/><line x1="491.54" y1="50.62" x2="498.43" y2="53.11" stroke="#dcdcdc" stroke-width="0.62"/><line x1="477.31" y1="56.83" x2="484.77" y2="59.32" stroke="#dcdcdc" stroke-width="0.62"/><line x1="477.31" y1="56.83" x2="474.83" y2="64.28" stroke="#dcdcdc" stroke-width="0.62"/><line x1="488.49" y1="70.49" x2="497.75" y2="70.49" stroke="#dcdcdc" stroke-width="0.62"/><line x1="488.49" y1="70.49" x2="485.44" y2="76.59" stroke="#dcdcdc" stroke-width="0.62"/><line x1="467.38" y1="78.51" x2="473.02" y2="79.75" stroke="#dcdcdc" stroke-width="0.62"/><line x1="467.38" y1="78.51" x2="470.54" y2="83.48" stroke="#dcdcdc" stroke-width="0.62"/><line x1="473.02" y1="79.75" x2="470.54" y2="83.48" stroke="#dcdcdc" stroke-width="0.62"/><line x1="473.02" y1="79.75" x2="469.98" y2="89.01" stroke="#dcdcdc" stroke-width="0.62"/><line x1="470.54" y1="83.48" x2="469.98" y2="89.01" stroke="#dcdcdc" stroke-width="0.62"/><line x1="490.98" y1="87.09" x2="498.43" y2="86.52" stroke="#dcdcdc" stroke-width="0.62"/><line x1="490.98" y1="87.09" x2="488.83" y2="92.62" stroke="#dcdcdc" stroke-width="0.62"/><line x1="490.98" y1="87.09" x2="493.35" y2="96.01" stroke="#dcdcdc" stroke-width="0.62"/><line x1="490.98" y1="87.09" x2="484.31" y2="93.75" stroke="#dcdcdc" stroke-width="0.62"/><line x1="488.83" y1="92.62" x2="493.35" y2="96.01" stroke="#dcdcdc" stroke-width="0.62"/><line x1="488.83" y1="92.62" x2="484.31" y2="93.75" stroke="#dcdcdc" stroke-width="0.62"/><line x1="493.35" y1="96.01" x2="484.31" y2="93.75" stroke="#dcdcdc" stroke-width="0.62"/><line x1="454.96" y1="132.14" x2="460.61" y2="137.78" stroke="#dcdcdc" stroke-width="0.62"/><line x1="479.80" y1="114.07" x2="488.83" y2="115.20" stroke="#dcdcdc" stroke-width="0.62"/><line x1="488.83" y1="115.20" x2="495.60" y2="123.10" stroke="#dcdcdc" stroke-width="0.62"/><line x1="496.73" y1="135.52" x2="503.51" y2="138.91" stroke="#dcdcdc" stroke-width="0.62"/><line x1="478.56" y1="37.64" x2="487.25" y2="40.12" stroke="#dcdcdc" stroke-width="0.62"/><line x1="487.25" y1="40.12" x2="491.54" y2="50.62" stroke="#dcdcdc" stroke-width="0.62"/><line x1="491.54" y1="50.62" x2="484.77" y2="59.32" stroke="#dcdcdc" stroke-width="0.62"/><line x1="484.77" y1="59.32" x2="477.31" y2="56.83" stroke="#dcdcdc" stroke-width="0.62"/><line x1="477.31" y1="56.83" x2="473.59" y2="45.77" stroke="#dcdcdc" stroke-width="0.62"/><line x1="473.59" y1="45.77" x2="478.56" y2="37.64" stroke="#dcdcdc" stroke-width="0.62"/><line x1="484.77" y1="59.32" x2="488.49" y2="70.49" stroke="#dcdcdc" stroke-width="0.62"/><line x1="488.49" y1="70.49" x2="485.44" y2="76.59" stroke="#dcdcdc" stroke-width="0.62"/><line x1="485.44" y1="76.59" x2="490.98" y2="87.09" stroke="#dcdcdc" stroke-width="0.62"/><line x1="490.98" y1="87.09" x2="488.83" y2="92.62" stroke="#dcdcdc" stroke-width="0.62"/><line x1="436.33" y1="36.17" x2="441.41" y2="50.85" stroke="#dcdcdc" stroke-width="0.62"/><line x1="441.41" y1="50.85" x2="444.01" y2="68.91" stroke="#dcdcdc" stroke-width="0.62"/><line x1="444.01" y1="68.91" x2="447.96" y2="84.04" stroke="#dcdcdc" stroke-width="0.62"/><line x1="444.01" y1="68.91" x2="428.99" y2="79.07" stroke="#dcdcdc" stroke-width="0.62"/><line x1="428.99" y1="79.07" x2="427.86" y2="86.98" stroke="#dcdcdc" stroke-width="0.62"/><line x1="473.02" y1="79.75" x2="485.44" y2="76.59" stroke="#dcdcdc" stroke-width="0.62"/><line x1="470.20" y1="83.59" x2="469.98" y2="89.01" stroke="#dcdcdc" stroke-width="0.62"/><line x1="426.06" y1="78.51" x2="431.03" y2="77.27" stroke="#dcdcdc" stroke-width="0.62"/><line x1="467.38" y1="78.51" x2="473.02" y2="79.75" stroke="#dcdcdc" stroke-width="0.62"/><circle cx="431.59" cy="26.57" r="1.69" fill="#fbfbfb" fill-opacity="0.6" stroke="#c4c4c4" stroke-width="0.51"/><circle cx="435.77" cy="35.04" r="2.48" fill="#fbfbfb" fill-opacity="0.6" stroke="#c4c4c4" stroke-width="0.51"/><circle cx="438.36" cy="37.64" r="2.48" fill="#fbfbfb" fill-opacity="0.6" stroke="#c4c4c4" stroke-width="0.51"/><circle cx="434.64" cy="40.12" r="2.48" fill="#fbfbfb" fill-opacity="0.6" stroke="#c4c4c4" stroke-width="0.51"/><circle cx="437.12" cy="32.78" r="2.48" fill="#fbfbfb" fill-opacity="0.6" stroke="#c4c4c4" stroke-width="0.51"/><circle cx="441.41" cy="47.46" r="2.48" fill="#fbfbfb" fill-opacity="0.6" stroke="#c4c4c4" stroke-width="0.51"/><circle cx="439.61" cy="52.54" r="2.48" fill="#fbfbfb" fill-opacity="0.6" stroke="#c4c4c4" stroke-width="0.51"/><circle cx="442.77" cy="55.03" r="2.48" fill="#fbfbfb" fill-opacity="0.6" stroke="#c4c4c4" stroke-width="0.51"/><circle cx="442.09" cy="50.06" r="2.48" fill="#fbfbfb" fill-opacity="0.6" stroke="#c4c4c4" stroke-width="0.51"/><circle cx="445.82" cy="66.09" r="2.48" fill="#fbfbfb" fill-opacity="0.6" stroke="#c4c4c4" stroke-width="0.51"/><circle cx="442.77" cy="69.82" r="2.48" fill="#fbfbfb" fill-opacity="0.6" stroke="#c4c4c4" stroke-width="0.51"/><circle cx="443.33" cy="72.30" r="2.48" fill="#fbfbfb" fill-opacity="0.6" stroke="#c4c4c4" stroke-width="0.51"/><circle cx="455.07" cy="65.53" r="1.69" fill="#fbfbfb" fill-opacity="0.6" stroke="#c4c4c4" stroke-width="0.51"/><circle cx="426.06" cy="78.51" r="2.48" fill="#fbfbfb" fill-opacity="0.6" stroke="#c4c4c4" stroke-width="0.51"/><circle cx="431.03" cy="77.27" r="2.48" fill="#fbfbfb" fill-opacity="0.6" stroke="#c4c4c4" stroke-width="0.51"/><circle cx="428.54" cy="80.99" r="2.48" fill="#fbfbfb" fill-opacity="0.6" stroke="#c4c4c4" stroke-width="0.51"/><circle cx="427.86" cy="86.98" r="2.03" fill="#fbfbfb" fill-opacity="0.6" stroke="#c4c4c4" stroke-width="0.51"/><circle cx="427.30" cy="89.57" r="2.03" fill="#fbfbfb" fill-opacity="0.6" stroke="#c4c4c4" stroke-width="0.51"/><circle cx="448.30" cy="82.23" r="2.48" fill="#fbfbfb" fill-opacity="0.6" stroke="#c4c4c4" stroke-width="0.51"/><circle cx="447.62" cy="85.85" r="2.26" fill="#fbfbfb" fill-opacity="0.6" stroke="#c4c4c4" stroke-width="0.51"/><circle cx="456.31" cy="81.56" r="1.69" fill="#fbfbfb" fill-opacity="0.6" stroke="#c4c4c4" stroke-width="0.51"/><circle cx="445.36" cy="90.93" r="1.81" fill="#fbfbfb" fill-opacity="0.6" stroke="#c4c4c4" stroke-width="0.51"/><circle cx="450.44" cy="93.75" r="1.81" fill="#fbfbfb" fill-opacity="0.6" stroke="#c4c4c4" stroke-width="0.51"/><circle cx="434.64" cy="90.36" r="1.69" fill="#fbfbfb" fill-opacity="0.6" stroke="#c4c4c4" stroke-width="0.51"/><circle cx="476.07" cy="29.62" r="1.69" fill="#fbfbfb" fill-opacity="0.6" stroke="#c4c4c4" stroke-width="0.51"/><circle cx="478.56" cy="37.64" r="2.48" fill="#fbfbfb" fill-opacity="0.6" stroke="#c4c4c4" stroke-width="0.51"/><circle cx="487.25" cy="40.12" r="2.48" fill="#fbfbfb" fill-opacity="0.6" stroke="#c4c4c4" stroke-width="0.51"/><circle cx="492.22" cy="34.59" r="1.69" fill="#fbfbfb" fill-opacity="0.6" stroke="#c4c4c4" stroke-width="0.51"/><circle cx="473.59" cy="45.77" r="2.48" fill="#fbfbfb" fill-opacity="0.6" stroke="#c4c4c4" stroke-width="0.51"/><circle cx="466.81" cy="44.53" r="1.69" fill="#fbfbfb" fill-opacity="0.6" stroke="#c4c4c4" stroke-width="0.51"/><circle cx="491.54" cy="50.62" r="2.48" fill="#fbfbfb" fill-opacity="0.6" stroke="#c4c4c4" stroke-width="0.51"/><circle cx="498.43" cy="53.11" r="1.69" fill="#fbfbfb" fill-opacity="0.6" stroke="#c4c4c4" stroke-width="0.51"/><circle cx="477.31" cy="56.83" r="2.48" fill="#fbfbfb" fill-opacity="0.6" stroke="#c4c4c4" stroke-width="0.51"/><circle cx="484.77" cy="59.32" r="2.48" fill="#fbfbfb" fill-opacity="0.6" stroke="#c4c4c4" stroke-width="0.51"/><circle cx="474.83" cy="64.28" r="1.69" fill="#fbfbfb" fill-opacity="0.6" stroke="#c4c4c4" stroke-width="0.51"/><circle cx="488.49" cy="70.49" r="2.48" fill="#fbfbfb" fill-opacity="0.6" stroke="#c4c4c4" stroke-width="0.51"/><circle cx="497.75" cy="70.49" r="1.69" fill="#fbfbfb" fill-opacity="0.6" stroke="#c4c4c4" stroke-width="0.51"/><circle cx="485.44" cy="76.59" r="2.48" fill="#fbfbfb" fill-opacity="0.6" stroke="#c4c4c4" stroke-width="0.51"/><circle cx="467.38" cy="78.51" r="2.48" fill="#fbfbfb" fill-opacity="0.6" stroke="#c4c4c4" stroke-width="0.51"/><circle cx="473.02" cy="79.75" r="2.48" fill="#fbfbfb" fill-opacity="0.6" stroke="#c4c4c4" stroke-width="0.51"/><circle cx="470.54" cy="83.48" r="2.26" fill="#fbfbfb" fill-opacity="0.6" stroke="#c4c4c4" stroke-width="0.51"/><circle cx="469.98" cy="89.01" r="2.03" fill="#fbfbfb" fill-opacity="0.6" stroke="#c4c4c4" stroke-width="0.51"/><circle cx="490.98" cy="87.09" r="2.48" fill="#fbfbfb" fill-opacity="0.6" stroke="#c4c4c4" stroke-width="0.51"/><circle cx="498.43" cy="86.52" r="1.69" fill="#fbfbfb" fill-opacity="0.6" stroke="#c4c4c4" stroke-width="0.51"/><circle cx="488.83" cy="92.62" r="2.03" fill="#fbfbfb" fill-opacity="0.6" stroke="#c4c4c4" stroke-width="0.51"/><circle cx="493.35" cy="96.01" r="2.03" fill="#fbfbfb" fill-opacity="0.6" stroke="#c4c4c4" stroke-width="0.51"/><circle cx="484.31" cy="93.75" r="1.81" fill="#fbfbfb" fill-opacity="0.6" stroke="#c4c4c4" stroke-width="0.51"/><circle cx="438.02" cy="110.69" r="2.48" fill="#fbfbfb" fill-opacity="0.6" stroke="#c4c4c4" stroke-width="0.51"/><circle cx="450.44" cy="116.33" r="2.03" fill="#fbfbfb" fill-opacity="0.6" stroke="#c4c4c4" stroke-width="0.51"/><circle cx="439.15" cy="127.62" r="2.48" fill="#fbfbfb" fill-opacity="0.6" stroke="#c4c4c4" stroke-width="0.51"/><circle cx="454.96" cy="132.14" r="2.03" fill="#fbfbfb" fill-opacity="0.6" stroke="#c4c4c4" stroke-width="0.51"/><circle cx="460.61" cy="137.78" r="1.69" fill="#fbfbfb" fill-opacity="0.6" stroke="#c4c4c4" stroke-width="0.51"/><circle cx="425.61" cy="117.46" r="1.81" fill="#fbfbfb" fill-opacity="0.6" stroke="#c4c4c4" stroke-width="0.51"/><circle cx="479.80" cy="114.07" r="2.48" fill="#fbfbfb" fill-opacity="0.6" stroke="#c4c4c4" stroke-width="0.51"/><circle cx="488.83" cy="115.20" r="2.03" fill="#fbfbfb" fill-opacity="0.6" stroke="#c4c4c4" stroke-width="0.51"/><circle cx="495.60" cy="123.10" r="2.26" fill="#fbfbfb" fill-opacity="0.6" stroke="#c4c4c4" stroke-width="0.51"/><circle cx="477.54" cy="131.01" r="2.48" fill="#fbfbfb" fill-opacity="0.6" stroke="#c4c4c4" stroke-width="0.51"/><circle cx="496.73" cy="135.52" r="2.03" fill="#fbfbfb" fill-opacity="0.6" stroke="#c4c4c4" stroke-width="0.51"/><circle cx="503.51" cy="138.91" r="1.69" fill="#fbfbfb" fill-opacity="0.6" stroke="#c4c4c4" stroke-width="0.51"/><circle cx="466.25" cy="123.10" r="1.81" fill="#fbfbfb" fill-opacity="0.6" stroke="#c4c4c4" stroke-width="0.51"/><line x1="419.17" y1="93.30" x2="411.72" y2="94.77" stroke="#b8b8b8" stroke-width="1.02" stroke-linecap="round"/><line x1="419.17" y1="93.30" x2="415.44" y2="94.03" stroke="#3a44d8" stroke-width="1.24" stroke-linecap="round"/><line x1="419.17" y1="93.30" x2="420.19" y2="86.86" stroke="#b8b8b8" stroke-width="1.02" stroke-linecap="round"/><line x1="419.17" y1="93.30" x2="419.68" y2="90.08" stroke="#3a44d8" stroke-width="1.24" stroke-linecap="round"/><line x1="424.59" y1="102.22" x2="417.70" y2="109.10" stroke="#b8b8b8" stroke-width="1.02" stroke-linecap="round"/><line x1="442.32" y1="115.54" x2="444.80" y2="109.10" stroke="#b8b8b8" stroke-width="1.02" stroke-linecap="round"/><line x1="449.31" y1="124.91" x2="457.22" y2="122.88" stroke="#b8b8b8" stroke-width="1.02" stroke-linecap="round"/><line x1="429.56" y1="126.38" x2="421.65" y2="126.83" stroke="#b8b8b8" stroke-width="1.02" stroke-linecap="round"/><line x1="435.99" y1="135.75" x2="433.96" y2="142.18" stroke="#b8b8b8" stroke-width="1.02" stroke-linecap="round"/><line x1="446.83" y1="134.28" x2="451.01" y2="140.94" stroke="#b8b8b8" stroke-width="1.02" stroke-linecap="round"/><circle cx="411.72" cy="94.77" r="1.13" fill="#dedede" stroke="#c8c8c8" stroke-width="0.34"/><circle cx="420.19" cy="86.86" r="1.13" fill="#dedede" stroke="#c8c8c8" stroke-width="0.34"/><circle cx="417.70" cy="109.10" r="1.13" fill="#dedede" stroke="#c8c8c8" stroke-width="0.34"/><circle cx="444.80" cy="109.10" r="1.13" fill="#dedede" stroke="#c8c8c8" stroke-width="0.34"/><circle cx="457.22" cy="122.88" r="1.13" fill="#dedede" stroke="#c8c8c8" stroke-width="0.34"/><circle cx="421.65" cy="126.83" r="1.13" fill="#dedede" stroke="#c8c8c8" stroke-width="0.34"/><circle cx="433.96" cy="142.18" r="1.13" fill="#dedede" stroke="#c8c8c8" stroke-width="0.34"/><circle cx="451.01" cy="140.94" r="1.13" fill="#dedede" stroke="#c8c8c8" stroke-width="0.34"/><line x1="424.59" y1="102.22" x2="436.44" y2="100.19" stroke="#8a8a8a" stroke-width="1.92" stroke-linecap="round"/><line x1="424.59" y1="102.22" x2="432.04" y2="116.56" stroke="#8a8a8a" stroke-width="1.92" stroke-linecap="round"/><line x1="432.04" y1="116.56" x2="442.32" y2="115.54" stroke="#8a8a8a" stroke-width="1.92" stroke-linecap="round"/><line x1="442.32" y1="115.54" x2="449.31" y2="124.91" stroke="#8a8a8a" stroke-width="1.92" stroke-linecap="round"/><line x1="449.31" y1="124.91" x2="446.83" y2="134.28" stroke="#8a8a8a" stroke-width="1.92" stroke-linecap="round"/><line x1="446.83" y1="134.28" x2="435.99" y2="135.75" stroke="#8a8a8a" stroke-width="1.92" stroke-linecap="round"/><line x1="435.99" y1="135.75" x2="429.56" y2="126.38" stroke="#8a8a8a" stroke-width="1.92" stroke-linecap="round"/><line x1="429.56" y1="126.38" x2="432.04" y2="116.56" stroke="#8a8a8a" stroke-width="1.92" stroke-linecap="round"/><line x1="421.88" y1="97.76" x2="424.59" y2="102.22" stroke="#6c6c6c" stroke-width="1.81" stroke-linecap="round"/><line x1="419.17" y1="93.30" x2="421.88" y2="97.76" stroke="#2430d8" stroke-width="1.81" stroke-linecap="round"/><line x1="436.44" y1="100.19" x2="439.38" y2="97.25" stroke="#8c8c8c" stroke-width="1.81" stroke-linecap="round"/><line x1="439.38" y1="97.25" x2="442.32" y2="94.31" stroke="#d82828" stroke-width="1.81" stroke-linecap="round"/><line x1="436.44" y1="100.19" x2="437.40" y2="101.71" stroke="#8c8c8c" stroke-width="1.81" stroke-linecap="round"/><line x1="437.40" y1="101.71" x2="438.36" y2="103.23" stroke="#d82828" stroke-width="1.81" stroke-linecap="round"/><circle cx="424.59" cy="102.22" r="1.02" fill="#555"/><circle cx="446.83" cy="134.28" r="3.27" fill="url(#ballg)"/><line x1="462.07" y1="95.33" x2="454.62" y2="95.78" stroke="#b8b8b8" stroke-width="1.02" stroke-linecap="round"/><line x1="462.07" y1="95.33" x2="458.35" y2="95.56" stroke="#3a44d8" stroke-width="1.24" stroke-linecap="round"/><line x1="462.07" y1="95.33" x2="463.54" y2="89.35" stroke="#b8b8b8" stroke-width="1.02" stroke-linecap="round"/><line x1="462.07" y1="95.33" x2="462.81" y2="92.34" stroke="#3a44d8" stroke-width="1.24" stroke-linecap="round"/><line x1="466.48" y1="106.17" x2="458.12" y2="111.02" stroke="#b8b8b8" stroke-width="1.02" stroke-linecap="round"/><line x1="482.85" y1="119.94" x2="484.31" y2="112.04" stroke="#b8b8b8" stroke-width="1.02" stroke-linecap="round"/><line x1="487.70" y1="128.86" x2="494.14" y2="127.85" stroke="#b8b8b8" stroke-width="1.02" stroke-linecap="round"/><line x1="468.96" y1="129.88" x2="463.09" y2="130.78" stroke="#b8b8b8" stroke-width="1.02" stroke-linecap="round"/><line x1="474.94" y1="139.25" x2="472.46" y2="145.12" stroke="#b8b8b8" stroke-width="1.02" stroke-linecap="round"/><line x1="484.77" y1="138.68" x2="488.72" y2="145.68" stroke="#b8b8b8" stroke-width="1.02" stroke-linecap="round"/><circle cx="454.62" cy="95.78" r="1.13" fill="#dedede" stroke="#c8c8c8" stroke-width="0.34"/><circle cx="463.54" cy="89.35" r="1.13" fill="#dedede" stroke="#c8c8c8" stroke-width="0.34"/><circle cx="458.12" cy="111.02" r="1.13" fill="#dedede" stroke="#c8c8c8" stroke-width="0.34"/><circle cx="484.31" cy="112.04" r="1.13" fill="#dedede" stroke="#c8c8c8" stroke-width="0.34"/><circle cx="494.14" cy="127.85" r="1.13" fill="#dedede" stroke="#c8c8c8" stroke-width="0.34"/><circle cx="463.09" cy="130.78" r="1.13" fill="#dedede" stroke="#c8c8c8" stroke-width="0.34"/><circle cx="472.46" cy="145.12" r="1.13" fill="#dedede" stroke="#c8c8c8" stroke-width="0.34"/><circle cx="488.72" cy="145.68" r="1.13" fill="#dedede" stroke="#c8c8c8" stroke-width="0.34"/><line x1="466.48" y1="106.17" x2="477.43" y2="103.69" stroke="#8a8a8a" stroke-width="1.92" stroke-linecap="round"/><line x1="466.48" y1="106.17" x2="472.46" y2="119.94" stroke="#8a8a8a" stroke-width="1.92" stroke-linecap="round"/><line x1="472.46" y1="119.94" x2="482.85" y2="119.94" stroke="#8a8a8a" stroke-width="1.92" stroke-linecap="round"/><line x1="482.85" y1="119.94" x2="487.70" y2="128.86" stroke="#8a8a8a" stroke-width="1.92" stroke-linecap="round"/><line x1="487.70" y1="128.86" x2="484.77" y2="138.68" stroke="#8a8a8a" stroke-width="1.92" stroke-linecap="round"/><line x1="484.77" y1="138.68" x2="474.94" y2="139.25" stroke="#8a8a8a" stroke-width="1.92" stroke-linecap="round"/><line x1="474.94" y1="139.25" x2="468.96" y2="129.88" stroke="#8a8a8a" stroke-width="1.92" stroke-linecap="round"/><line x1="468.96" y1="129.88" x2="472.46" y2="119.94" stroke="#8a8a8a" stroke-width="1.92" stroke-linecap="round"/><line x1="464.27" y1="100.75" x2="466.48" y2="106.17" stroke="#6c6c6c" stroke-width="1.81" stroke-linecap="round"/><line x1="462.07" y1="95.33" x2="464.27" y2="100.75" stroke="#2430d8" stroke-width="1.81" stroke-linecap="round"/><line x1="477.43" y1="103.69" x2="480.14" y2="101.20" stroke="#8c8c8c" stroke-width="1.81" stroke-linecap="round"/><line x1="480.14" y1="101.20" x2="482.85" y2="98.72" stroke="#d82828" stroke-width="1.81" stroke-linecap="round"/><line x1="477.43" y1="103.69" x2="478.61" y2="104.64" stroke="#8c8c8c" stroke-width="1.81" stroke-linecap="round"/><line x1="478.61" y1="104.64" x2="479.80" y2="105.60" stroke="#d82828" stroke-width="1.81" stroke-linecap="round"/><circle cx="466.48" cy="106.17" r="1.02" fill="#555"/><circle cx="472.46" cy="119.94" r="3.27" fill="url(#ballg)"/><text transform="translate(453.40,137.00) scale(0.9,1)" class="ml" style="font-size:7.4px">CZ</text><text transform="translate(475.40,115.00) scale(0.9,1)" class="ml" style="font-size:7.4px">CG</text></g><text transform="translate(42.9,37.4) scale(0.955,1)" class="pl" style="font-size:27.3px">A</text><text transform="translate(405.2,37.3) scale(0.84,1)" class="pl" style="font-size:27.95px">B</text><text transform="translate(43.8,399.4) scale(0.76,1)" class="pl" style="font-size:29.1px">C</text><text transform="translate(405.2,398.8) scale(0.92,1)" class="pl" style="font-size:27.95px">D</text>
</svg>
</body></html>
